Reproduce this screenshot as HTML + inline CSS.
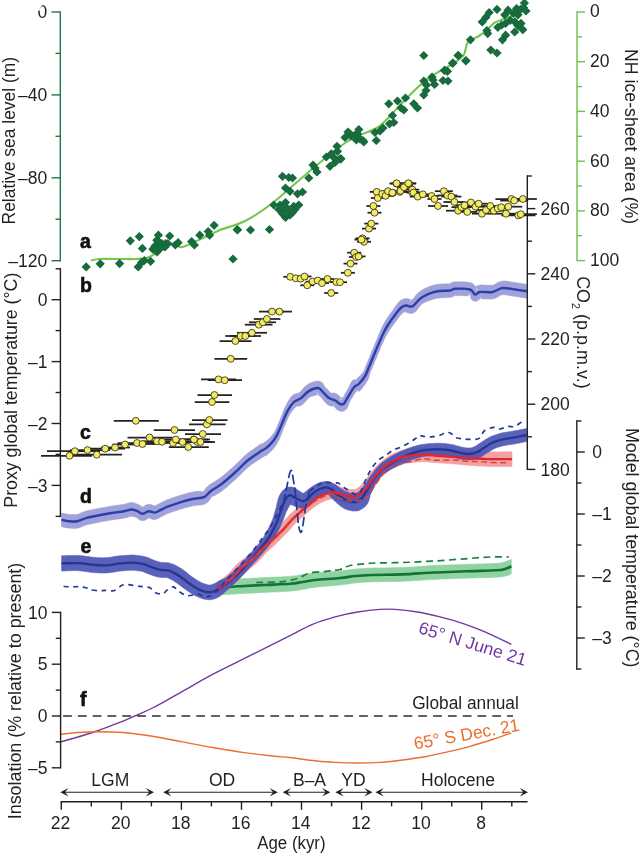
<!DOCTYPE html>
<html><head><meta charset="utf-8"><title>Figure</title>
<style>html,body{margin:0;padding:0;background:#fff;}svg{display:block;opacity:0.999;will-change:transform;}</style></head>
<body>
<svg width="640" height="854" viewBox="0 0 640 854" font-family="'Liberation Sans', sans-serif">
<rect width="640" height="854" fill="#ffffff"/>
<path d="M60.6,741.9 C65.9,740.3 82.2,735.9 92.5,732.5 C102.8,729.1 115.3,724.1 122.5,721.3 C129.7,718.5 130.6,717.8 135.6,715.6 C140.6,713.4 144.7,712.0 152.5,708.0 C160.3,704.0 172.5,696.9 182.5,691.3 C192.5,685.7 202.5,679.7 212.5,674.4 C222.5,669.1 232.5,664.4 242.5,659.4 C252.5,654.4 264.6,648.4 272.5,644.4 C280.4,640.4 283.3,638.9 290.0,635.6 C296.7,632.3 305.0,627.5 312.5,624.4 C320.0,621.3 327.5,619.0 335.0,616.9 C342.5,614.8 350.0,613.2 357.5,612.0 C365.0,610.8 373.8,609.8 380.0,609.4 C386.2,609.0 388.8,609.0 395.0,609.4 C401.2,609.8 410.0,610.8 417.5,612.0 C425.0,613.2 432.5,615.0 440.0,616.9 C447.5,618.8 455.0,620.8 462.5,623.3 C470.0,625.8 476.9,628.4 485.0,631.9 C493.1,635.4 506.9,642.2 511.3,644.3" fill="none" stroke="#72389f" stroke-width="1.4" stroke-linejoin="round"/>
<path d="M60.6,734.4 C63.4,734.1 70.9,732.9 77.5,732.5 C84.1,732.1 92.5,731.8 100.0,731.8 C107.5,731.8 113.8,731.8 122.5,732.5 C131.2,733.2 142.5,734.7 152.5,736.3 C162.5,737.9 172.5,740.0 182.5,741.9 C192.5,743.8 202.5,745.8 212.5,747.5 C222.5,749.2 232.5,751.0 242.5,752.4 C252.5,753.8 264.6,755.1 272.5,756.0 C280.4,756.9 283.3,756.8 290.0,757.5 C296.7,758.2 305.0,759.7 312.5,760.5 C320.0,761.3 327.5,762.0 335.0,762.4 C342.5,762.8 350.0,763.0 357.5,763.0 C365.0,763.0 372.5,762.9 380.0,762.4 C387.5,761.9 395.0,760.9 402.5,760.0 C410.0,759.1 417.5,758.1 425.0,756.8 C432.5,755.4 440.0,753.6 447.5,751.9 C455.0,750.1 462.5,748.4 470.0,746.3 C477.5,744.2 485.6,741.7 492.5,739.5 C499.4,737.3 508.2,734.1 511.3,733.0" fill="none" stroke="#ea6f2c" stroke-width="1.4" stroke-linejoin="round"/>
<path d="M63.1,716 H513" stroke="#2e2e2e" stroke-width="1.5" stroke-dasharray="8.8 6" fill="none"/>
<path d="M222.5,594.9 L223.8,594.8 L225.5,594.7 L228.0,594.5 L230.2,594.3 L232.7,594.2 L235.2,594.0 L237.8,593.8 L240.4,593.6 L243.2,593.5 L246.1,593.3 L249.2,593.2 L252.4,593.0 L255.6,592.9 L258.9,592.7 L262.2,592.5 L265.4,592.4 L268.6,592.2 L271.9,592.1 L275.2,591.9 L278.6,591.8 L281.9,591.6 L285.0,591.5 L288.0,591.3 L290.6,591.1 L292.9,590.9 L294.9,590.7 L296.6,590.4 L298.2,590.2 L299.6,589.9 L300.9,589.7 L302.2,589.4 L303.7,589.2 L305.2,588.9 L306.7,588.7 L308.0,588.4 L309.3,588.1 L310.6,587.9 L312.1,587.7 L313.7,587.4 L315.8,587.2 L318.2,586.9 L321.2,586.6 L324.4,586.4 L327.8,586.1 L331.3,585.8 L334.7,585.5 L337.8,585.2 L340.7,585.0 L343.2,584.7 L345.5,584.4 L347.5,584.1 L349.4,583.8 L351.1,583.5 L352.8,583.3 L354.5,583.1 L356.3,582.9 L358.1,582.7 L359.8,582.5 L361.3,582.4 L362.9,582.3 L364.7,582.2 L366.6,582.1 L368.9,582.0 L371.5,581.9 L374.6,581.8 L378.1,581.8 L381.9,581.7 L386.0,581.7 L390.2,581.6 L394.5,581.5 L398.7,581.4 L402.8,581.3 L406.8,581.1 L410.7,580.9 L414.7,580.6 L418.6,580.4 L422.5,580.1 L426.4,579.8 L430.3,579.6 L434.2,579.4 L438.0,579.2 L441.9,579.0 L445.8,578.9 L449.7,578.7 L453.5,578.6 L457.4,578.5 L461.3,578.3 L465.2,578.2 L469.3,578.1 L473.5,577.9 L477.9,577.8 L482.2,577.7 L486.4,577.6 L490.3,577.5 L493.7,577.3 L496.7,577.2 L499.1,577.0 L501.0,576.8 L502.6,576.6 L503.9,576.4 L505.1,576.1 L506.0,575.9 L506.7,575.7 L507.6,575.4 L508.7,575.1 L510.0,574.6 L511.1,574.1 L509.0,574.4 L509.7,574.0 L510.4,573.7 L510.9,573.4 L511.3,573.2 L511.3,559.4 L510.9,559.6 L510.4,559.9 L509.7,560.2 L509.0,560.6 L505.4,561.5 L504.8,561.8 L504.3,562.0 L503.6,562.2 L502.8,562.4 L502.1,562.6 L501.6,562.8 L501.2,562.9 L500.5,563.0 L499.5,563.1 L498.0,563.3 L495.9,563.4 L493.1,563.6 L489.8,563.7 L486.0,563.8 L481.8,563.9 L477.5,564.0 L473.1,564.2 L468.8,564.3 L464.8,564.4 L460.9,564.5 L457.0,564.7 L453.1,564.8 L449.1,564.9 L445.2,565.1 L441.3,565.3 L437.4,565.4 L433.4,565.6 L429.5,565.8 L425.5,566.1 L421.6,566.3 L417.7,566.6 L413.8,566.9 L409.9,567.1 L406.1,567.3 L402.2,567.5 L398.3,567.6 L394.2,567.7 L390.0,567.8 L385.8,567.9 L381.8,567.9 L377.9,568.0 L374.3,568.0 L371.1,568.1 L368.3,568.2 L366.0,568.3 L363.9,568.4 L362.0,568.5 L360.3,568.7 L358.6,568.8 L356.8,569.0 L354.9,569.1 L352.9,569.3 L351.0,569.6 L349.2,569.8 L347.4,570.1 L345.6,570.3 L343.7,570.6 L341.6,570.8 L339.3,571.0 L336.6,571.3 L333.6,571.5 L330.2,571.7 L326.8,571.9 L323.3,572.1 L320.0,572.4 L317.0,572.6 L314.2,572.8 L311.9,573.1 L309.9,573.4 L308.2,573.6 L306.7,573.9 L305.3,574.1 L304.0,574.4 L302.8,574.6 L301.3,574.8 L299.8,575.0 L298.4,575.2 L297.1,575.5 L295.9,575.7 L294.6,575.9 L293.1,576.0 L291.4,576.2 L289.4,576.4 L287.0,576.5 L284.2,576.7 L281.2,576.9 L277.9,577.0 L274.6,577.2 L271.2,577.3 L267.9,577.5 L264.6,577.6 L261.5,577.8 L258.2,577.9 L254.9,578.1 L251.7,578.2 L248.5,578.4 L245.3,578.5 L242.4,578.7 L239.6,578.9 L236.9,579.0 L234.2,579.2 L231.6,579.4 L229.1,579.6 L226.9,579.7 L225.5,579.9 L223.8,580.0 L222.5,580.1Z" fill="#8fd3a0" stroke="#8fd3a0" stroke-width="0.6" stroke-linejoin="round" opacity="1"/>
<path d="M222.5,587.5 C225.4,587.3 232.9,586.7 240.0,586.2 C247.1,585.8 256.7,585.4 265.0,585.0 C273.3,584.6 283.8,584.2 290.0,583.8 C296.2,583.2 298.3,582.6 302.5,582.0 C306.7,581.4 308.8,580.7 315.0,580.0 C321.2,579.3 333.2,578.7 340.0,578.0 C346.8,577.3 350.4,576.5 355.6,576.0 C360.8,575.5 363.5,575.3 371.3,575.0 C379.1,574.7 392.1,574.8 402.5,574.4 C412.9,574.0 423.4,573.0 433.8,572.5 C444.2,572.0 454.6,571.7 465.0,571.3 C475.4,570.9 489.5,570.7 496.3,570.3 C503.1,569.9 503.1,569.5 505.6,568.8 C508.1,568.1 510.4,566.7 511.3,566.3" fill="none" stroke="#15703a" stroke-width="2.6" stroke-linejoin="round"/>
<path d="M256.2,582.5 C259.8,582.4 271.9,582.3 277.5,582.0 C283.1,581.7 286.2,581.2 290.0,580.5 C293.8,579.8 296.7,578.8 300.0,577.5 C303.3,576.2 305.4,574.0 310.0,573.0 C314.6,572.0 322.5,571.8 327.5,571.2 C332.5,570.7 336.2,570.5 340.0,569.5 C343.8,568.5 345.8,566.5 350.0,565.5 C354.2,564.5 360.8,564.2 365.0,563.8 C369.2,563.3 368.8,563.2 375.0,563.0 C381.2,562.8 392.7,562.8 402.5,562.5 C412.3,562.2 423.4,561.6 433.8,561.0 C444.2,560.4 455.6,559.5 465.0,558.8 C474.4,558.1 482.7,557.3 490.0,557.0 C497.3,556.7 505.7,557.0 508.8,557.0" fill="none" stroke="#1c8042" stroke-width="1.7" stroke-dasharray="7 4.5" stroke-linejoin="round"/>
<path d="M217.0,594.5 L217.3,594.3 L217.6,594.1 L218.0,593.9 L218.4,593.7 L219.0,593.3 L219.6,592.9 L223.5,591.4 L224.4,590.7 L225.5,590.0 L226.8,589.1 L228.3,588.1 L229.9,587.0 L231.6,585.9 L233.2,584.6 L234.8,583.4 L236.4,582.1 L237.8,580.7 L239.1,579.4 L240.3,578.0 L241.4,576.8 L242.4,575.6 L243.4,574.4 L244.3,573.3 L245.4,572.3 L246.6,571.3 L247.9,570.2 L249.3,569.0 L250.8,567.8 L252.4,566.6 L253.9,565.3 L255.5,564.0 L257.0,562.7 L258.4,561.3 L259.8,559.9 L261.0,558.5 L262.2,557.2 L263.3,555.9 L264.3,554.7 L265.3,553.6 L266.3,552.6 L267.2,551.7 L268.1,550.9 L269.0,550.1 L269.9,549.2 L271.0,548.3 L272.1,547.3 L273.3,546.2 L274.7,544.9 L276.1,543.5 L277.7,542.0 L279.3,540.4 L281.0,538.7 L282.7,537.0 L284.3,535.3 L285.9,533.7 L287.4,532.2 L288.7,530.8 L290.0,529.4 L291.2,528.0 L292.3,526.7 L293.4,525.5 L294.4,524.3 L295.5,523.2 L296.5,522.1 L297.7,521.1 L298.8,520.0 L300.0,519.0 L301.2,517.9 L302.4,516.9 L303.6,515.9 L304.8,514.9 L306.0,513.9 L307.1,512.9 L308.2,512.0 L309.2,511.1 L310.1,510.2 L311.1,509.4 L312.0,508.7 L312.9,508.0 L313.8,507.3 L314.7,506.6 L315.7,505.9 L316.6,505.3 L317.5,504.7 L318.4,504.2 L319.3,503.6 L320.2,503.1 L321.1,502.6 L322.0,502.2 L322.9,501.7 L323.9,501.3 L324.8,500.9 L325.7,500.6 L326.5,500.2 L327.3,500.0 L328.1,499.7 L328.9,499.5 L329.8,499.3 L330.6,499.1 L331.5,499.0 L332.2,498.9 L332.9,498.8 L333.5,498.8 L333.8,498.8 L333.7,498.8 L333.3,498.7 L332.9,498.6 L332.7,498.5 L332.9,498.6 L333.6,499.0 L334.5,499.4 L335.6,499.8 L336.4,500.1 L337.3,500.4 L338.2,500.8 L339.3,501.2 L340.5,501.6 L341.7,502.0 L342.9,502.3 L344.1,502.6 L345.3,502.9 L346.4,503.1 L347.6,503.3 L348.8,503.4 L350.0,503.5 L351.3,503.6 L352.6,503.6 L353.9,503.6 L355.0,503.5 L356.2,503.3 L357.3,503.0 L358.5,502.7 L359.7,502.3 L361.0,501.8 L362.1,501.2 L363.3,500.5 L364.4,499.6 L365.4,498.7 L366.4,497.7 L367.3,496.7 L368.2,495.7 L369.0,494.7 L369.8,493.7 L370.6,492.6 L371.4,491.5 L372.3,490.3 L373.1,489.1 L373.8,487.9 L374.6,486.7 L375.3,485.6 L375.9,484.5 L376.6,483.5 L377.4,482.4 L378.1,481.4 L378.9,480.4 L379.6,479.5 L380.3,478.6 L381.0,477.7 L381.7,476.9 L382.4,476.1 L383.3,475.3 L384.1,474.5 L385.1,473.7 L386.0,472.9 L386.9,472.2 L387.9,471.5 L388.8,470.8 L389.8,470.2 L390.8,469.5 L391.8,468.9 L392.9,468.3 L394.0,467.7 L395.1,467.1 L396.2,466.6 L397.3,466.1 L398.3,465.7 L399.3,465.3 L400.3,465.0 L401.3,464.6 L402.3,464.3 L403.4,464.1 L404.4,463.8 L405.5,463.5 L406.6,463.3 L407.6,463.1 L408.6,462.9 L409.7,462.8 L410.7,462.6 L411.8,462.5 L412.9,462.4 L414.0,462.3 L415.1,462.2 L416.3,462.0 L417.3,461.9 L418.3,461.9 L419.3,461.8 L420.2,461.7 L421.3,461.7 L422.4,461.7 L423.6,461.7 L424.9,461.7 L426.3,461.8 L427.8,461.9 L429.4,462.1 L431.1,462.2 L432.9,462.4 L434.8,462.5 L436.7,462.7 L438.7,462.8 L440.8,463.0 L442.9,463.1 L445.1,463.3 L447.3,463.4 L449.5,463.6 L451.7,463.7 L453.9,463.9 L456.0,464.1 L458.1,464.3 L460.2,464.5 L462.4,464.7 L464.6,464.9 L466.7,465.1 L468.9,465.3 L471.1,465.5 L473.3,465.6 L475.3,465.8 L477.4,465.9 L479.4,466.0 L481.6,466.1 L483.8,466.2 L486.1,466.3 L488.6,466.4 L491.5,466.4 L494.7,466.5 L498.1,466.5 L501.5,466.4 L504.8,466.4 L507.7,466.4 L510.2,466.4 L512.0,466.4 L512.0,451.8 L510.2,451.8 L507.6,451.8 L504.7,451.8 L501.4,451.9 L498.0,451.9 L494.7,451.9 L491.6,451.8 L488.9,451.8 L486.5,451.8 L484.3,451.7 L482.2,451.6 L480.2,451.5 L478.2,451.5 L476.2,451.3 L474.2,451.2 L472.1,451.1 L470.0,451.0 L467.9,450.9 L465.8,450.7 L463.6,450.6 L461.5,450.4 L459.3,450.2 L457.1,450.1 L454.9,449.9 L452.7,449.8 L450.5,449.6 L448.3,449.4 L446.0,449.3 L443.8,449.1 L441.7,449.0 L439.7,448.9 L437.7,448.7 L435.9,448.6 L434.1,448.4 L432.3,448.3 L430.6,448.1 L428.9,448.0 L427.2,447.9 L425.5,447.8 L423.9,447.7 L422.4,447.7 L421.0,447.7 L419.6,447.7 L418.4,447.8 L417.2,447.9 L416.0,448.0 L414.8,448.1 L413.7,448.2 L412.4,448.4 L411.2,448.6 L409.9,448.8 L408.7,449.0 L407.4,449.2 L406.1,449.5 L404.7,449.8 L403.4,450.1 L402.1,450.4 L400.9,450.8 L399.6,451.2 L398.3,451.7 L396.9,452.1 L395.6,452.7 L394.3,453.3 L392.9,453.9 L391.6,454.6 L390.3,455.3 L389.0,456.1 L387.7,456.9 L386.4,457.8 L385.1,458.6 L383.9,459.5 L382.7,460.4 L381.6,461.4 L380.4,462.4 L379.3,463.4 L378.3,464.4 L377.3,465.4 L376.3,466.4 L375.3,467.5 L374.4,468.5 L373.4,469.6 L372.5,470.7 L371.6,471.8 L370.8,472.8 L370.0,473.9 L369.3,474.9 L368.5,475.9 L367.8,476.9 L366.9,478.0 L366.0,479.1 L365.2,480.2 L364.4,481.3 L363.6,482.3 L362.8,483.3 L362.1,484.1 L361.4,484.9 L360.7,485.6 L359.9,486.3 L359.1,487.0 L358.4,487.5 L357.7,488.0 L357.1,488.4 L356.6,488.7 L356.1,488.9 L355.7,489.1 L355.4,489.3 L355.1,489.4 L354.8,489.4 L354.4,489.5 L354.0,489.5 L353.5,489.6 L352.9,489.6 L352.4,489.6 L351.8,489.6 L351.1,489.6 L350.4,489.5 L349.6,489.4 L348.8,489.3 L347.9,489.1 L347.1,489.0 L346.3,488.8 L345.5,488.6 L344.6,488.4 L343.6,488.1 L342.7,487.8 L341.7,487.5 L340.8,487.2 L340.0,487.0 L339.7,486.9 L339.7,486.8 L339.4,486.7 L338.9,486.4 L337.9,485.9 L336.6,485.5 L335.1,485.3 L333.7,485.2 L332.4,485.3 L331.2,485.5 L330.0,485.7 L328.8,486.0 L327.5,486.3 L326.3,486.6 L325.1,487.0 L323.9,487.5 L322.7,488.0 L321.5,488.5 L320.4,489.1 L319.2,489.7 L318.1,490.3 L317.0,491.0 L316.0,491.7 L314.9,492.4 L313.9,493.1 L312.8,493.8 L311.8,494.6 L310.8,495.4 L309.8,496.2 L308.8,497.0 L307.8,497.9 L306.8,498.7 L305.8,499.6 L304.8,500.5 L303.8,501.4 L302.9,502.4 L301.9,503.3 L301.0,504.2 L300.0,505.2 L299.0,506.1 L298.0,507.1 L296.8,508.1 L295.7,509.2 L294.5,510.3 L293.2,511.4 L292.0,512.6 L290.7,513.8 L289.5,515.1 L288.2,516.3 L287.1,517.6 L285.9,518.9 L284.8,520.1 L283.7,521.4 L282.6,522.7 L281.4,524.0 L280.1,525.3 L278.7,526.8 L277.2,528.3 L275.6,530.0 L273.9,531.6 L272.3,533.3 L270.7,534.9 L269.2,536.3 L267.8,537.6 L266.6,538.6 L265.5,539.5 L264.5,540.2 L263.4,541.0 L262.4,541.7 L261.2,542.6 L260.0,543.5 L258.7,544.6 L257.4,545.8 L256.2,547.1 L255.0,548.3 L253.8,549.5 L252.6,550.8 L251.5,551.9 L250.3,553.1 L249.2,554.1 L247.9,555.2 L246.6,556.3 L245.2,557.5 L243.6,558.7 L242.1,559.9 L240.5,561.2 L238.9,562.5 L237.4,563.9 L236.0,565.3 L234.7,566.7 L233.5,568.0 L232.5,569.3 L231.5,570.5 L230.5,571.6 L229.6,572.6 L228.6,573.5 L227.5,574.5 L226.2,575.6 L224.7,576.8 L223.3,577.9 L221.8,579.0 L220.4,580.0 L219.1,581.0 L218.1,581.8 L217.2,582.4 L219.6,581.9 L219.0,582.3 L218.4,582.7 L218.0,582.9 L217.6,583.1 L217.3,583.3 L217.0,583.5Z" fill="#f5a0a0" stroke="#f5a0a0" stroke-width="0.6" stroke-linejoin="round" opacity="1"/>
<path d="M61.6,571.0 L62.9,571.0 L64.9,570.9 L67.0,570.8 L69.3,570.7 L71.6,570.7 L73.9,570.6 L76.1,570.6 L78.0,570.7 L79.8,570.8 L81.6,571.0 L83.4,571.2 L85.3,571.5 L87.3,571.8 L89.3,572.1 L91.3,572.4 L93.3,572.6 L95.2,572.7 L96.9,572.8 L98.5,572.9 L100.2,573.0 L101.8,573.0 L103.5,573.0 L105.3,573.0 L107.1,572.9 L109.1,572.7 L111.0,572.5 L113.0,572.2 L114.8,571.9 L116.6,571.6 L118.3,571.4 L119.9,571.1 L121.4,571.0 L123.0,570.8 L124.5,570.7 L126.0,570.5 L127.5,570.4 L128.9,570.3 L130.2,570.3 L131.5,570.3 L132.7,570.3 L134.0,570.3 L135.2,570.4 L136.5,570.6 L137.8,570.7 L139.1,570.9 L140.3,571.1 L141.4,571.3 L142.3,571.5 L142.9,571.6 L143.2,571.7 L143.5,571.8 L143.9,572.0 L144.4,572.3 L145.2,572.7 L146.3,573.1 L147.4,573.5 L148.4,573.9 L149.5,574.3 L150.7,574.8 L152.0,575.2 L153.4,575.7 L154.8,576.2 L156.3,576.6 L158.0,577.0 L159.7,577.2 L161.4,577.4 L162.8,577.4 L164.0,577.4 L165.0,577.4 L165.7,577.4 L166.3,577.5 L166.7,577.6 L167.4,577.8 L168.2,578.1 L169.1,578.5 L170.0,578.9 L171.0,579.4 L172.1,580.0 L173.2,580.6 L174.2,581.3 L175.2,581.9 L176.2,582.6 L177.3,583.3 L178.4,584.2 L179.6,585.1 L180.8,586.0 L182.1,587.0 L183.4,587.9 L184.6,588.8 L185.9,589.7 L187.1,590.5 L188.3,591.4 L189.6,592.3 L190.9,593.1 L192.2,594.0 L193.4,594.7 L194.7,595.4 L196.0,596.0 L197.2,596.6 L198.3,597.1 L199.5,597.6 L200.6,598.0 L201.6,598.4 L202.6,598.7 L203.6,599.0 L204.6,599.2 L205.5,599.4 L206.6,599.6 L207.7,599.7 L208.8,599.8 L209.8,599.7 L210.9,599.7 L211.9,599.5 L213.0,599.3 L214.0,599.0 L215.1,598.6 L216.1,598.2 L217.2,597.8 L218.2,597.3 L219.3,596.7 L220.4,595.9 L221.5,595.1 L222.5,594.3 L223.5,593.4 L224.4,592.6 L225.3,591.8 L226.1,591.1 L226.7,590.5 L227.2,590.0 L227.7,589.6 L228.2,589.2 L228.7,588.7 L229.4,588.2 L230.2,587.5 L231.0,586.7 L231.9,585.9 L232.9,585.0 L234.0,583.9 L235.2,582.8 L236.4,581.7 L237.6,580.5 L238.8,579.2 L240.1,578.0 L241.3,576.7 L242.5,575.5 L243.7,574.2 L244.9,572.9 L246.1,571.7 L247.2,570.4 L248.4,569.1 L249.6,567.8 L250.7,566.5 L251.9,565.2 L253.1,563.9 L254.3,562.6 L255.5,561.3 L256.7,560.0 L257.9,558.6 L259.1,557.2 L260.2,555.9 L261.5,554.5 L262.7,553.1 L264.0,551.6 L265.2,550.2 L266.5,548.7 L267.7,547.2 L268.9,545.7 L270.0,544.2 L271.1,542.7 L272.1,541.2 L273.0,539.7 L273.9,538.3 L274.7,536.8 L275.5,535.5 L276.3,534.1 L277.0,532.8 L277.8,531.4 L278.5,530.1 L279.1,528.9 L279.8,527.6 L280.4,526.3 L281.0,525.0 L281.5,523.7 L282.1,522.4 L282.8,520.9 L283.4,519.5 L283.9,518.0 L284.5,516.6 L285.0,515.2 L285.5,513.8 L286.0,512.5 L286.6,511.3 L287.2,510.0 L287.9,508.6 L288.5,507.4 L289.2,506.2 L289.8,505.1 L290.3,504.2 L290.9,503.5 L291.3,503.1 L291.7,502.7 L292.1,502.4 L292.5,502.2 L292.8,502.2 L292.9,502.3 L292.8,502.5 L292.4,502.9 L291.4,503.3 L289.8,503.3 L288.5,503.0 L287.9,502.7 L287.9,502.7 L288.3,502.9 L288.9,503.4 L289.9,504.0 L290.9,504.6 L291.7,504.9 L292.2,505.1 L292.8,505.3 L293.5,505.6 L294.2,505.9 L295.0,506.2 L295.9,506.5 L296.6,506.8 L297.1,506.9 L297.6,507.1 L298.3,507.4 L299.2,507.7 L300.5,508.0 L302.0,508.3 L303.8,508.3 L305.7,508.0 L307.4,507.3 L308.8,506.5 L309.8,505.7 L310.7,504.9 L311.4,504.2 L312.1,503.5 L312.6,502.9 L313.1,502.3 L313.8,501.5 L314.5,500.7 L315.1,500.0 L315.6,499.3 L316.0,498.7 L316.3,498.2 L316.7,497.7 L317.0,497.3 L317.5,497.0 L318.1,496.5 L318.8,496.1 L319.5,495.7 L320.1,495.3 L320.8,494.9 L321.4,494.6 L322.1,494.3 L322.8,494.0 L323.4,493.7 L324.0,493.5 L324.6,493.3 L325.0,493.2 L325.3,493.1 L325.5,493.1 L325.7,493.1 L325.8,493.1 L326.1,493.2 L326.5,493.4 L326.9,493.6 L327.5,493.9 L328.0,494.2 L328.6,494.5 L329.0,494.8 L329.2,495.0 L329.3,495.1 L329.4,495.4 L329.7,495.7 L330.1,496.2 L330.6,496.9 L331.3,497.6 L332.1,498.4 L332.8,499.1 L333.4,499.8 L334.2,500.6 L335.0,501.3 L335.8,502.1 L336.7,502.9 L337.6,503.7 L338.5,504.4 L339.3,505.1 L340.1,505.7 L340.9,506.3 L341.8,507.0 L342.8,507.6 L343.9,508.3 L345.1,508.9 L346.3,509.4 L347.5,509.8 L348.7,510.1 L349.9,510.4 L351.2,510.7 L352.6,510.9 L354.1,511.0 L355.7,511.0 L357.4,510.9 L358.9,510.4 L360.3,509.8 L361.7,509.1 L362.9,508.3 L364.1,507.4 L365.1,506.5 L366.0,505.6 L366.9,504.5 L367.7,503.2 L368.3,501.9 L368.8,500.6 L369.2,499.4 L369.5,498.1 L369.8,497.0 L370.1,495.8 L370.4,494.6 L371.0,493.4 L371.6,492.1 L372.2,490.8 L372.8,489.5 L373.3,488.2 L373.9,487.0 L374.4,485.8 L375.0,484.7 L375.6,483.7 L376.3,482.7 L376.9,481.7 L377.5,480.8 L378.2,479.9 L378.8,479.0 L379.5,478.2 L380.1,477.4 L380.9,476.6 L381.6,475.9 L382.4,475.3 L383.1,474.6 L383.8,474.1 L384.5,473.5 L385.4,472.9 L386.2,472.3 L387.2,471.7 L388.2,471.0 L389.3,470.3 L390.5,469.6 L391.7,469.0 L392.9,468.3 L394.1,467.7 L395.3,467.1 L396.4,466.5 L397.5,465.9 L398.6,465.4 L399.7,464.9 L400.9,464.4 L402.0,463.9 L403.2,463.4 L404.4,462.9 L405.5,462.4 L406.6,461.9 L407.8,461.4 L408.9,460.9 L410.0,460.5 L411.1,460.0 L412.2,459.6 L413.3,459.3 L414.3,458.9 L415.4,458.5 L416.5,458.2 L417.6,457.8 L418.7,457.5 L419.7,457.3 L420.8,457.0 L421.9,456.8 L422.9,456.6 L423.9,456.4 L425.0,456.2 L426.0,456.0 L427.1,455.9 L428.2,455.8 L429.3,455.7 L430.5,455.6 L431.7,455.5 L432.9,455.4 L434.2,455.3 L435.4,455.3 L436.7,455.3 L437.9,455.2 L439.2,455.3 L440.4,455.3 L441.5,455.4 L442.7,455.4 L443.9,455.5 L445.1,455.7 L446.3,455.8 L447.5,456.0 L448.7,456.2 L449.9,456.4 L451.0,456.6 L452.1,456.9 L453.3,457.2 L454.6,457.6 L455.9,458.0 L457.3,458.3 L458.7,458.7 L460.1,459.0 L461.4,459.2 L462.6,459.4 L463.8,459.6 L465.0,459.8 L466.3,459.9 L467.5,460.0 L468.8,460.0 L470.1,460.0 L471.3,459.9 L472.5,459.8 L473.7,459.5 L474.8,459.3 L475.9,459.0 L477.0,458.6 L478.1,458.2 L479.2,457.8 L480.3,457.2 L481.4,456.6 L482.4,456.0 L483.4,455.4 L484.3,454.7 L485.1,454.2 L485.9,453.6 L486.8,453.1 L487.8,452.4 L488.9,451.8 L490.0,451.1 L491.0,450.5 L492.0,449.9 L492.9,449.3 L493.9,448.9 L494.8,448.4 L495.8,448.0 L496.9,447.6 L498.0,447.2 L499.2,446.9 L500.4,446.5 L501.6,446.2 L502.8,445.9 L504.0,445.6 L505.1,445.4 L506.1,445.2 L507.2,445.0 L508.3,444.8 L509.5,444.7 L510.9,444.5 L512.4,444.3 L513.9,444.0 L515.6,443.7 L517.6,443.3 L519.6,442.9 L521.7,442.5 L523.6,442.1 L524.2,441.9 L525.7,441.6 L526.8,441.4 L526.8,428.6 L525.7,428.8 L524.2,429.1 L521.2,429.6 L519.2,430.0 L517.2,430.4 L515.2,430.7 L513.3,431.1 L511.7,431.4 L510.3,431.6 L509.0,431.8 L507.8,432.0 L506.5,432.2 L505.2,432.4 L503.9,432.6 L502.5,432.8 L501.0,433.2 L499.6,433.6 L498.2,434.0 L496.7,434.4 L495.3,434.9 L493.9,435.4 L492.4,435.9 L491.0,436.5 L489.6,437.2 L488.2,437.9 L486.8,438.7 L485.6,439.4 L484.4,440.2 L483.3,441.0 L482.3,441.7 L481.3,442.3 L480.4,442.9 L479.4,443.6 L478.4,444.2 L477.5,444.8 L476.7,445.4 L476.0,445.9 L475.3,446.3 L474.8,446.6 L474.2,446.8 L473.6,447.1 L473.0,447.3 L472.4,447.5 L471.9,447.7 L471.3,447.8 L470.8,447.9 L470.2,448.0 L469.5,448.0 L468.8,448.0 L468.1,448.0 L467.3,447.9 L466.4,447.9 L465.5,447.7 L464.5,447.6 L463.5,447.4 L462.4,447.2 L461.4,447.0 L460.3,446.7 L459.2,446.4 L457.9,446.0 L456.5,445.7 L455.1,445.3 L453.6,444.9 L452.1,444.6 L450.7,444.4 L449.3,444.1 L447.9,443.9 L446.5,443.8 L445.1,443.6 L443.7,443.5 L442.3,443.4 L440.8,443.3 L439.4,443.3 L437.9,443.2 L436.5,443.3 L435.0,443.3 L433.6,443.4 L432.2,443.4 L430.8,443.5 L429.5,443.6 L428.2,443.7 L426.9,443.9 L425.7,444.0 L424.4,444.2 L423.2,444.3 L421.9,444.5 L420.6,444.8 L419.3,445.0 L418.1,445.3 L416.8,445.6 L415.5,446.0 L414.2,446.3 L413.0,446.7 L411.7,447.1 L410.5,447.5 L409.2,447.9 L408.0,448.4 L406.7,448.9 L405.5,449.4 L404.3,449.9 L403.0,450.5 L401.8,451.0 L400.6,451.6 L399.4,452.1 L398.3,452.7 L397.1,453.3 L395.9,453.9 L394.7,454.5 L393.4,455.2 L392.2,455.9 L390.9,456.6 L389.7,457.3 L388.5,458.2 L387.2,459.0 L386.0,459.9 L384.7,460.8 L383.5,461.7 L382.2,462.6 L381.1,463.5 L380.0,464.5 L379.0,465.4 L378.1,466.4 L377.2,467.3 L376.4,468.3 L375.7,469.2 L375.0,470.1 L374.3,471.1 L373.7,472.0 L372.9,473.0 L372.1,474.0 L371.4,475.0 L370.7,476.0 L369.9,477.0 L369.2,478.1 L368.5,479.2 L367.8,480.3 L367.0,481.4 L366.2,482.6 L365.3,483.8 L364.5,485.0 L363.8,486.1 L363.0,487.2 L362.3,488.3 L361.6,489.2 L360.6,490.0 L359.7,490.9 L358.9,491.6 L358.1,492.2 L357.3,492.7 L356.6,493.1 L356.1,493.2 L355.6,493.3 L355.2,493.4 L354.9,493.6 L354.6,493.6 L354.4,493.6 L354.3,493.5 L354.2,493.4 L354.2,493.3 L354.2,493.1 L354.2,493.2 L354.1,493.3 L353.8,493.3 L353.4,493.3 L352.9,493.3 L352.3,493.3 L351.7,493.2 L351.2,493.1 L350.8,493.1 L350.3,493.1 L349.9,493.0 L349.3,492.8 L348.7,492.7 L348.0,492.4 L347.3,492.1 L346.5,491.8 L345.8,491.5 L345.1,491.1 L344.3,490.7 L343.5,490.2 L342.7,489.8 L341.9,489.3 L341.1,488.8 L340.4,488.4 L340.0,488.1 L339.7,487.9 L339.3,487.6 L338.8,487.1 L338.1,486.5 L337.3,485.9 L336.4,485.2 L335.4,484.6 L334.5,484.1 L333.6,483.6 L332.6,483.2 L331.5,482.7 L330.4,482.3 L329.2,481.9 L327.8,481.7 L326.3,481.5 L324.9,481.5 L323.5,481.7 L322.3,481.9 L321.2,482.2 L320.1,482.6 L319.1,482.9 L318.2,483.3 L317.3,483.7 L316.4,484.1 L315.4,484.7 L314.4,485.2 L313.4,485.8 L312.5,486.3 L311.6,487.0 L310.7,487.6 L309.8,488.3 L308.8,489.0 L307.9,489.7 L307.1,490.4 L306.4,491.1 L305.8,491.6 L305.3,492.1 L304.8,492.4 L304.4,492.7 L303.7,493.1 L303.1,493.6 L302.5,494.0 L302.0,494.3 L301.7,494.5 L301.6,494.5 L301.7,494.3 L302.3,494.0 L303.1,493.9 L303.7,493.8 L304.1,493.9 L304.2,493.8 L304.0,493.7 L303.5,493.5 L302.9,493.2 L302.2,492.8 L301.8,492.6 L301.5,492.4 L301.1,492.1 L300.6,491.8 L300.1,491.5 L299.5,491.1 L298.9,490.7 L298.5,490.4 L298.3,490.4 L298.1,490.2 L297.6,489.8 L296.8,489.2 L295.6,488.4 L293.8,487.6 L291.4,487.0 L288.6,487.1 L286.4,487.9 L284.8,488.8 L283.5,489.9 L282.4,491.0 L281.5,492.2 L280.7,493.4 L280.0,494.6 L279.3,495.9 L278.7,497.4 L278.2,498.9 L277.8,500.4 L277.4,501.9 L277.1,503.3 L276.8,504.8 L276.5,506.2 L276.2,507.5 L275.8,508.9 L275.4,510.4 L274.9,511.8 L274.5,513.3 L274.1,514.7 L273.7,516.1 L273.3,517.4 L272.9,518.6 L272.4,519.9 L271.9,521.1 L271.4,522.3 L270.9,523.4 L270.3,524.6 L269.8,525.8 L269.2,527.0 L268.6,528.2 L267.9,529.6 L267.2,530.9 L266.5,532.2 L265.8,533.5 L265.0,534.9 L264.2,536.2 L263.4,537.5 L262.5,538.8 L261.6,540.2 L260.5,541.6 L259.4,543.0 L258.3,544.4 L257.1,545.9 L255.9,547.3 L254.7,548.7 L253.6,550.1 L252.4,551.5 L251.3,552.8 L250.1,554.1 L248.9,555.4 L247.8,556.7 L246.6,558.0 L245.4,559.2 L244.3,560.5 L243.1,561.8 L241.9,563.1 L240.7,564.3 L239.5,565.6 L238.4,566.8 L237.2,568.0 L236.1,569.2 L234.9,570.3 L233.7,571.4 L232.5,572.5 L231.2,573.6 L230.0,574.6 L228.8,575.6 L227.6,576.6 L226.5,577.4 L225.6,578.1 L224.8,578.6 L224.2,578.9 L223.7,579.1 L223.2,579.2 L222.6,579.4 L221.9,579.7 L221.0,580.0 L220.1,580.5 L219.1,581.1 L218.0,581.6 L217.0,582.2 L216.0,582.8 L215.0,583.3 L214.1,583.8 L213.4,584.1 L212.7,584.3 L212.2,584.5 L211.7,584.7 L211.3,584.8 L210.9,584.9 L210.5,584.9 L210.2,584.9 L209.9,584.9 L209.5,584.9 L209.2,585.0 L209.0,585.0 L208.8,585.0 L208.6,584.9 L208.3,584.9 L207.9,584.8 L207.4,584.7 L206.8,584.5 L206.1,584.3 L205.3,584.1 L204.5,583.8 L203.7,583.6 L202.9,583.2 L202.1,582.9 L201.2,582.5 L200.4,582.1 L199.4,581.6 L198.5,581.0 L197.4,580.4 L196.3,579.6 L195.1,578.9 L193.9,578.1 L192.7,577.3 L191.6,576.5 L190.5,575.7 L189.5,574.9 L188.3,574.0 L187.2,573.0 L186.0,572.0 L184.7,571.0 L183.3,570.1 L182.0,569.1 L180.7,568.3 L179.4,567.5 L178.1,566.8 L176.8,566.0 L175.4,565.3 L174.0,564.6 L172.4,564.0 L170.8,563.4 L168.9,562.9 L167.1,562.7 L165.5,562.6 L164.1,562.6 L163.0,562.6 L162.1,562.6 L161.4,562.5 L160.8,562.4 L160.1,562.3 L159.1,562.0 L158.1,561.6 L156.9,561.3 L155.8,560.9 L154.7,560.4 L153.6,560.0 L152.6,559.7 L152.0,559.4 L151.5,559.2 L151.0,558.9 L150.3,558.6 L149.5,558.2 L148.3,557.7 L147.1,557.3 L145.7,556.9 L144.4,556.6 L143.0,556.3 L141.5,556.0 L140.0,555.8 L138.4,555.6 L136.7,555.4 L135.0,555.2 L133.3,555.1 L131.5,555.1 L129.8,555.1 L128.2,555.2 L126.5,555.3 L124.8,555.4 L123.2,555.5 L121.5,555.7 L119.8,555.8 L117.9,556.1 L116.1,556.3 L114.2,556.6 L112.4,556.9 L110.7,557.2 L109.0,557.4 L107.5,557.6 L106.1,557.7 L104.7,557.8 L103.3,557.8 L102.0,557.8 L100.6,557.8 L99.3,557.7 L97.8,557.7 L96.3,557.5 L94.7,557.4 L93.1,557.3 L91.4,557.1 L89.5,556.8 L87.6,556.5 L85.5,556.2 L83.3,555.9 L81.1,555.7 L78.8,555.5 L76.4,555.4 L73.8,555.4 L71.3,555.5 L68.8,555.5 L66.4,555.6 L64.4,555.7 L62.9,555.8 L61.6,555.8Z" fill="#4850b4" stroke="#4850b4" stroke-width="0.6" stroke-linejoin="round" opacity="0.9"/>
<path d="M61.6,563.4 C64.4,563.4 73.0,562.8 78.4,563.1 C83.8,563.4 89.3,564.6 94.0,565.0 C98.7,565.4 102.2,565.6 106.6,565.3 C111.0,565.0 116.2,563.8 120.6,563.4 C125.0,563.0 129.1,562.6 133.0,562.7 C136.9,562.8 141.2,563.6 144.0,564.2 C146.8,564.9 147.4,565.7 150.0,566.6 C152.6,567.5 156.3,569.1 159.4,569.7 C162.5,570.4 165.6,569.6 168.8,570.5 C171.9,571.4 175.0,573.2 178.1,575.2 C181.2,577.2 184.4,580.0 187.5,582.2 C190.6,584.4 194.0,586.8 196.9,588.4 C199.8,590.0 202.5,591.0 204.7,591.6 C206.9,592.2 208.3,592.5 210.2,592.3 C212.1,592.1 213.8,591.6 216.0,590.5 C218.2,589.4 221.3,586.9 223.4,585.5 C225.5,584.1 226.3,584.0 228.8,582.0 C231.2,580.0 235.0,576.6 238.1,573.5 C241.2,570.4 244.4,566.9 247.5,563.5 C250.6,560.1 253.8,556.7 256.9,553.0 C260.0,549.3 263.6,545.2 266.2,541.5 C268.9,537.8 270.9,534.0 272.8,530.5 C274.7,527.0 276.1,524.0 277.5,520.5 C278.9,517.0 280.1,512.9 281.4,509.4 C282.7,505.9 283.9,501.9 285.3,499.5 C286.7,497.1 288.4,495.5 290.0,495.2 C291.6,494.9 293.1,496.7 294.7,497.5 C296.3,498.3 297.8,499.2 299.4,499.8 C300.9,500.4 302.4,501.4 304.0,501.0 C305.6,500.6 307.2,498.9 308.8,497.5 C310.3,496.1 311.6,494.2 313.4,492.8 C315.2,491.4 317.6,489.9 319.7,489.0 C321.8,488.1 323.9,487.2 326.0,487.3 C328.1,487.4 330.5,488.7 332.2,489.7 C333.9,490.7 334.5,492.0 336.2,493.4 C338.0,494.8 340.4,496.8 342.5,498.1 C344.6,499.4 346.5,500.6 348.8,501.2 C351.0,501.9 353.7,502.4 355.8,502.0 C357.9,501.6 359.6,500.6 361.2,498.9 C362.9,497.2 364.3,494.6 366.0,491.9 C367.7,489.2 369.6,485.4 371.4,482.5 C373.2,479.6 374.9,477.1 376.9,474.7 C378.8,472.3 380.5,470.5 383.1,468.4 C385.7,466.3 389.4,464.0 392.5,462.2 C395.6,460.4 398.8,458.9 401.9,457.5 C405.0,456.1 408.1,454.7 411.2,453.6 C414.4,452.5 417.5,451.6 420.6,450.9 C423.7,450.2 426.7,449.9 430.0,449.6 C433.3,449.3 437.1,449.2 440.6,449.3 C444.1,449.4 447.6,449.9 451.0,450.5 C454.4,451.1 458.1,452.5 461.2,453.1 C464.4,453.7 467.2,454.1 469.8,454.0 C472.4,453.9 474.4,453.3 476.7,452.3 C479.0,451.3 481.0,449.6 483.6,448.0 C486.2,446.4 489.1,444.2 492.2,442.8 C495.3,441.4 499.1,440.2 502.5,439.4 C505.9,438.5 508.7,438.4 512.8,437.7 C516.8,437.0 524.5,435.4 526.8,435.0" fill="none" stroke="#26358f" stroke-width="2.3" stroke-linejoin="round"/>
<path d="M217.0,589.0 C217.7,588.5 218.7,588.1 221.2,586.2 C223.8,584.4 229.1,580.8 232.5,577.8 C235.9,574.8 238.0,571.3 241.4,568.1 C244.8,564.9 249.6,561.6 253.1,558.4 C256.6,555.1 259.5,551.5 262.5,548.6 C265.5,545.7 267.7,544.6 271.2,541.2 C274.8,537.9 280.1,532.5 283.8,528.8 C287.4,525.0 289.9,521.7 293.0,518.6 C296.1,515.5 299.6,512.6 302.5,510.0 C305.4,507.4 307.7,505.1 310.3,503.0 C312.9,500.9 315.4,499.1 318.0,497.5 C320.6,495.9 323.4,494.5 326.0,493.6 C328.6,492.7 331.8,492.0 333.8,492.0 C335.7,492.0 335.8,492.8 337.8,493.4 C339.8,494.0 343.0,495.3 345.6,495.8 C348.2,496.3 351.0,496.8 353.4,496.6 C355.8,496.4 357.6,496.0 359.7,494.7 C361.8,493.4 363.9,491.2 366.0,488.8 C368.1,486.3 370.1,482.9 372.2,480.2 C374.3,477.5 376.1,474.8 378.4,472.3 C380.7,469.8 383.4,467.4 386.2,465.3 C389.1,463.2 392.5,461.2 395.6,459.8 C398.7,458.4 401.9,457.5 405.0,456.7 C408.1,455.9 411.3,455.5 414.4,455.2 C417.5,454.9 419.9,454.6 423.8,454.7 C427.6,454.8 432.1,455.3 437.2,455.7 C442.3,456.1 448.7,456.5 454.4,456.9 C460.1,457.3 465.9,457.9 471.6,458.3 C477.3,458.7 482.0,459.0 488.8,459.1 C495.5,459.2 508.1,459.1 512.0,459.1" fill="none" stroke="#e1262d" stroke-width="2.4" stroke-linejoin="round"/>
<path d="M221.2,586.2 C223.1,584.8 229.1,580.8 232.5,577.8 C235.9,574.8 238.0,571.3 241.4,568.1 C244.8,564.9 249.6,561.6 253.1,558.4 C256.6,555.1 259.5,551.4 262.5,548.6 C265.5,545.8 267.7,544.9 271.2,541.8 C274.8,538.6 280.1,533.2 283.8,529.5 C287.4,525.8 289.9,522.6 293.0,519.5 C296.1,516.4 299.6,513.5 302.5,511.0 C305.4,508.5 307.7,506.4 310.3,504.5 C312.9,502.6 315.4,501.0 318.0,499.5 C320.6,498.0 324.0,496.5 326.0,495.5 C328.0,494.5 327.8,493.0 330.0,493.4 C332.2,493.8 335.8,496.8 339.4,498.1 C343.0,499.4 348.5,500.9 351.9,501.2 C355.3,501.6 357.1,501.3 359.7,500.5 C362.3,499.7 365.2,498.8 367.5,496.6 C369.8,494.4 372.2,489.6 373.8,487.2 C375.3,484.8 375.4,484.7 376.9,482.5 C378.4,480.3 380.9,476.4 383.0,474.0 C385.1,471.6 387.0,470.0 389.4,468.4 C391.8,466.8 393.6,465.7 397.2,464.5 C400.8,463.3 406.8,462.3 411.2,461.4 C415.7,460.4 419.4,459.0 423.8,458.8 C428.1,458.6 432.1,460.1 437.2,460.3 C442.3,460.5 449.3,459.8 454.4,460.0 C459.5,460.2 463.7,461.1 468.0,461.4 C472.3,461.7 476.0,461.5 480.0,461.7 C484.0,461.9 487.3,462.5 492.2,462.6 C497.1,462.8 506.5,462.6 509.4,462.6" fill="none" stroke="#d8453f" stroke-width="1.5" stroke-dasharray="6 3.5" stroke-linejoin="round"/>
<path d="M63.6,586.4 C65.0,586.5 69.5,586.9 72.0,586.9 C74.5,586.9 76.1,586.5 78.4,586.6 C80.7,586.7 84.1,587.2 86.0,587.7 C87.9,588.2 87.7,589.2 90.0,589.7 C92.3,590.2 97.5,590.7 100.0,590.8 C102.5,590.9 102.9,590.3 105.0,590.3 C107.1,590.3 110.8,591.0 112.8,590.8 C114.8,590.6 115.2,590.1 116.7,589.2 C118.2,588.3 120.2,586.1 122.0,585.3 C123.8,584.5 125.4,584.4 127.7,584.5 C130.0,584.6 133.5,585.6 136.0,586.0 C138.5,586.4 140.2,586.3 142.5,586.6 C144.8,586.9 148.0,586.8 150.0,587.7 C152.0,588.7 152.6,591.2 154.7,592.3 C156.8,593.3 160.4,594.4 162.5,594.0 C164.6,593.6 165.4,591.2 167.2,590.0 C169.0,588.8 171.6,586.8 173.4,586.9 C175.2,587.0 176.1,589.4 178.1,590.8 C180.1,592.1 183.1,594.2 185.2,595.0 C187.3,595.8 188.4,595.7 190.6,595.5 C192.8,595.3 196.2,593.8 198.4,594.0 C200.6,594.2 202.1,596.7 204.0,597.0 C205.9,597.3 208.0,596.8 210.0,596.0 C212.0,595.2 213.7,594.2 216.0,592.0 C218.3,589.8 221.2,586.2 224.0,583.0 C226.8,579.8 229.8,576.5 233.0,573.0 C236.2,569.5 239.8,565.5 243.0,562.0 C246.2,558.5 249.1,555.5 252.0,552.0 C254.9,548.5 258.0,544.1 260.3,541.0 C262.6,537.9 264.0,536.0 265.8,533.4 C267.6,530.8 269.4,528.7 271.2,525.6 C273.1,522.5 274.9,519.2 277.0,515.0 C279.1,510.8 282.6,503.0 283.8,500.6" fill="none" stroke="#24389c" stroke-width="1.7" stroke-dasharray="5 4.6" stroke-linejoin="round"/>
<path d="M283.8,500.6 C284.3,498.3 286.1,490.2 286.9,486.6 C287.7,483.0 287.8,481.4 288.4,478.8 C289.0,476.1 290.1,471.5 290.8,470.6 C291.5,469.7 291.8,471.2 292.3,473.3 C292.8,475.4 293.4,480.7 293.9,483.4 C294.3,486.1 294.6,486.8 295.0,489.7 C295.4,492.6 295.6,496.4 296.0,500.6 C296.4,504.8 297.1,510.5 297.5,514.7 C297.9,518.9 298.2,522.7 298.6,525.6 C299.1,528.5 299.7,531.0 300.2,531.9 C300.7,532.8 301.2,532.6 301.7,531.0 C302.2,529.4 302.8,525.7 303.3,522.5 C303.8,519.3 304.3,514.7 304.8,511.6 C305.3,508.5 305.6,507.1 306.4,503.8 C307.2,500.4 309.0,493.3 309.5,491.2" fill="none" stroke="#24389c" stroke-width="1.7" stroke-dasharray="9.5 3.5" stroke-dashoffset="3" stroke-linejoin="round"/>
<path d="M309.5,491.2 C310.4,490.6 313.0,488.6 315.0,487.3 C317.0,486.0 319.2,484.2 321.2,483.4 C323.3,482.6 325.4,482.3 327.5,482.3 C329.6,482.3 331.9,483.3 333.8,483.4 C335.6,483.5 337.2,482.6 338.4,483.0 C339.6,483.4 339.5,484.5 341.0,485.6 C342.5,486.7 345.1,488.2 347.2,489.5 C349.3,490.8 351.4,492.6 353.4,493.4 C355.3,494.2 357.5,495.0 358.9,494.2 C360.3,493.4 360.9,490.9 362.0,488.8 C363.1,486.6 364.0,483.6 365.2,481.0 C366.4,478.4 367.6,475.6 369.0,473.0 C370.4,470.4 371.9,467.6 373.8,465.3 C375.6,463.0 377.9,460.7 380.0,459.0 C382.1,457.3 384.2,456.6 386.2,455.2 C388.3,453.8 390.2,451.8 392.5,450.5 C394.8,449.2 397.7,448.5 400.3,447.3 C402.9,446.1 405.5,444.8 408.0,443.4 C410.5,442.0 413.4,440.1 415.2,438.8 C417.0,437.4 417.6,436.0 419.0,435.6 C420.4,435.2 421.6,436.2 423.8,436.4 C425.9,436.6 429.2,437.0 432.0,436.8 C434.8,436.6 438.3,435.7 440.6,435.0 C442.9,434.3 444.1,432.8 445.8,432.5 C447.5,432.2 449.3,432.5 451.0,433.4 C452.7,434.3 453.7,436.8 456.0,437.7 C458.3,438.6 461.5,438.7 464.7,439.0 C467.9,439.3 472.4,439.6 475.0,439.4 C477.6,439.2 478.4,439.1 480.0,437.7 C481.6,436.3 482.2,432.5 484.5,430.8 C486.8,429.1 491.4,427.6 494.0,427.3 C496.6,427.0 497.7,429.1 500.0,429.0 C502.3,428.9 505.3,426.9 507.7,426.5 C510.1,426.1 512.2,427.2 514.5,426.5 C516.8,425.8 519.8,422.8 521.4,422.2 C523.0,421.6 523.6,422.9 524.0,423.0" fill="none" stroke="#24389c" stroke-width="1.7" stroke-dasharray="5 4.6" stroke-linejoin="round"/>
<path d="M61.5,526.6 L62.1,526.7 L62.8,526.8 L63.6,527.0 L63.2,527.1 L64.3,527.4 L65.5,527.6 L66.8,527.9 L68.1,528.0 L69.2,528.1 L70.3,528.2 L71.5,528.3 L72.8,528.4 L74.1,528.4 L75.5,528.3 L77.0,528.2 L78.5,527.9 L80.1,527.4 L81.6,526.8 L82.8,526.3 L83.9,525.7 L85.0,525.3 L85.9,525.0 L86.9,524.7 L87.8,524.5 L89.0,524.3 L90.3,524.0 L91.6,523.7 L93.1,523.4 L94.6,523.1 L96.1,522.8 L97.7,522.5 L99.3,522.2 L100.9,521.8 L102.6,521.5 L104.3,521.2 L106.1,520.9 L107.8,520.6 L109.5,520.3 L111.2,520.0 L112.8,519.7 L114.3,519.5 L115.9,519.3 L117.5,519.1 L119.0,518.9 L120.5,518.7 L122.1,518.4 L123.5,518.2 L125.0,517.9 L126.4,517.6 L127.8,517.2 L128.9,516.8 L129.9,516.6 L130.6,516.4 L131.1,516.3 L131.4,516.4 L131.5,516.4 L131.6,516.4 L131.8,516.3 L132.1,516.3 L132.5,516.3 L133.0,516.4 L133.6,516.6 L134.3,516.9 L135.0,517.1 L135.3,517.1 L135.7,517.0 L136.2,517.3 L136.9,517.8 L137.7,518.5 L138.9,519.5 L140.5,520.3 L142.8,520.7 L145.1,520.2 L146.7,519.3 L147.9,518.5 L148.7,517.8 L149.4,517.5 L149.9,517.5 L150.0,517.7 L149.4,518.1 L148.8,518.1 L148.6,517.9 L148.9,517.9 L149.5,518.1 L150.4,518.4 L151.5,518.9 L153.1,519.4 L155.1,519.5 L156.8,519.1 L158.2,518.5 L159.3,517.9 L160.2,517.3 L160.9,516.8 L161.5,516.4 L162.1,516.2 L162.6,516.1 L163.2,515.7 L163.9,515.3 L164.6,515.0 L165.2,514.6 L165.8,514.3 L166.4,514.1 L167.0,513.8 L167.6,513.6 L168.3,513.4 L168.9,513.1 L169.5,512.8 L170.2,512.6 L170.9,512.4 L171.6,512.1 L172.5,511.8 L173.4,511.5 L174.6,511.1 L175.9,510.7 L177.2,510.2 L178.6,509.7 L180.1,509.3 L181.6,508.8 L183.0,508.4 L184.4,508.0 L185.7,507.6 L187.1,507.2 L188.5,506.9 L189.9,506.5 L191.2,506.2 L192.5,505.9 L193.8,505.6 L195.0,505.4 L196.0,505.3 L197.1,505.2 L198.3,505.2 L199.7,505.1 L201.2,504.9 L202.9,504.6 L204.8,504.1 L206.6,503.1 L208.2,501.8 L209.4,500.3 L210.2,499.0 L210.9,497.9 L211.6,497.1 L212.4,496.5 L213.2,496.1 L214.1,495.8 L215.1,495.3 L216.3,494.6 L217.6,493.8 L219.0,492.9 L220.5,492.0 L222.1,490.9 L223.7,489.6 L225.4,488.3 L227.0,486.9 L228.6,485.5 L230.3,484.0 L231.9,482.5 L233.6,481.0 L235.3,479.5 L237.0,478.0 L238.6,476.5 L240.3,474.9 L241.9,473.2 L243.5,471.6 L245.1,470.0 L246.8,468.5 L248.4,467.1 L250.0,465.8 L251.5,464.6 L253.2,463.5 L254.9,462.3 L256.7,461.1 L258.5,459.9 L260.2,458.7 L261.9,457.7 L263.3,456.7 L264.5,456.0 L265.3,455.6 L265.7,455.5 L265.8,455.7 L265.8,455.9 L266.2,455.6 L267.0,455.0 L267.8,454.2 L268.4,453.5 L269.1,452.9 L269.9,452.3 L270.7,451.5 L271.6,450.7 L272.5,449.8 L273.3,448.8 L274.2,447.8 L274.9,446.7 L275.7,445.7 L276.3,444.7 L277.0,443.6 L277.6,442.5 L278.3,441.3 L278.9,440.1 L279.5,438.8 L280.0,437.4 L280.6,435.9 L281.2,434.2 L281.9,432.6 L282.5,430.9 L283.2,429.3 L283.9,427.6 L284.6,426.0 L285.3,424.4 L285.9,422.8 L286.6,421.1 L287.3,419.5 L287.9,417.9 L288.7,416.3 L289.4,414.9 L290.2,413.6 L291.1,412.4 L291.9,411.3 L292.7,410.2 L293.5,409.2 L294.3,408.3 L295.1,407.5 L296.0,406.8 L296.8,406.3 L297.5,406.0 L298.1,406.0 L298.6,406.1 L299.1,406.1 L299.8,405.9 L300.8,405.5 L301.9,404.9 L303.2,404.0 L304.4,402.8 L305.5,401.4 L306.5,400.2 L307.5,399.1 L308.4,398.1 L309.4,397.3 L310.3,396.7 L311.1,396.4 L311.9,396.2 L312.8,396.0 L313.7,395.7 L314.8,395.4 L315.8,395.1 L316.7,394.9 L317.4,394.8 L317.8,394.9 L317.7,394.9 L317.0,394.5 L316.5,393.7 L316.6,393.0 L317.0,392.7 L317.5,392.9 L318.0,393.6 L318.5,394.6 L319.1,395.5 L319.8,396.2 L320.6,396.8 L321.3,397.6 L322.1,398.5 L322.9,399.5 L323.8,400.6 L324.7,401.7 L325.7,403.0 L326.9,404.1 L328.2,405.0 L329.4,405.5 L330.4,405.9 L331.3,406.1 L331.8,406.2 L332.2,406.2 L332.4,406.0 L332.7,405.8 L333.1,405.8 L333.6,406.0 L334.2,406.5 L334.8,407.1 L335.5,408.0 L336.4,409.0 L337.5,409.9 L338.4,410.4 L339.2,410.8 L340.3,411.2 L341.9,411.4 L343.8,411.1 L345.5,410.1 L346.7,408.8 L347.6,407.3 L348.1,405.8 L348.6,404.5 L349.0,403.3 L349.5,402.1 L350.1,400.9 L350.7,399.8 L351.4,398.8 L352.1,397.9 L352.7,396.8 L353.4,395.6 L354.0,394.4 L354.8,393.3 L355.5,392.2 L356.2,391.4 L357.0,390.7 L357.7,390.4 L358.2,390.6 L358.5,391.0 L358.6,391.4 L359.0,391.4 L359.6,391.0 L360.6,390.2 L361.6,389.1 L362.4,387.8 L363.2,386.8 L363.9,385.7 L364.8,384.7 L365.6,383.5 L366.4,382.3 L367.2,381.0 L367.9,379.7 L368.5,378.4 L368.9,377.1 L369.3,375.8 L369.6,374.6 L369.9,373.5 L370.2,372.4 L370.7,371.3 L371.2,370.1 L371.8,368.7 L372.5,367.2 L373.1,365.6 L373.8,363.9 L374.5,362.1 L375.3,360.2 L376.2,358.2 L377.1,356.1 L378.1,353.8 L379.1,351.3 L380.3,348.5 L381.5,345.6 L382.8,342.6 L384.2,339.6 L385.6,336.7 L387.0,334.1 L388.3,331.8 L389.7,329.7 L391.1,327.7 L392.5,325.9 L393.8,324.1 L395.1,322.4 L396.4,320.7 L397.6,319.1 L398.6,317.7 L399.6,316.3 L400.5,315.2 L401.4,314.3 L402.1,313.5 L402.9,312.8 L403.6,312.4 L404.2,312.0 L404.9,311.7 L405.4,311.6 L405.7,311.7 L405.9,311.9 L406.0,312.2 L406.1,312.3 L406.2,312.4 L406.5,312.4 L406.6,312.4 L406.1,312.3 L405.8,312.1 L406.3,312.1 L407.1,312.5 L408.5,313.0 L410.4,313.5 L412.9,313.3 L415.3,312.0 L416.8,310.3 L417.9,308.7 L418.9,307.3 L419.9,306.1 L420.8,305.0 L421.8,304.0 L422.7,303.4 L423.6,303.0 L424.4,302.6 L425.2,302.2 L426.0,301.8 L426.7,301.5 L427.5,301.2 L428.3,300.9 L429.1,300.5 L430.0,300.2 L431.0,299.9 L432.0,299.5 L433.1,299.2 L434.1,298.9 L435.2,298.6 L436.3,298.4 L437.5,298.2 L438.6,298.0 L439.7,297.9 L441.1,297.8 L442.6,297.8 L444.3,297.7 L446.0,297.7 L447.7,297.6 L449.3,297.5 L451.0,297.3 L452.7,296.8 L454.2,295.9 L455.2,294.8 L455.7,294.3 L455.7,294.7 L455.3,295.4 L455.0,295.7 L455.4,295.7 L456.7,295.6 L458.4,295.6 L460.3,295.6 L462.3,295.6 L464.3,295.7 L466.1,295.8 L467.4,295.9 L468.1,295.9 L468.1,295.3 L468.3,294.5 L469.0,294.1 L469.7,294.3 L470.1,295.0 L470.4,296.3 L470.9,298.5 L473.2,300.9 L476.6,301.3 L479.0,299.8 L480.1,298.3 L480.6,297.6 L481.1,297.5 L481.3,297.9 L481.2,298.4 L481.0,298.8 L481.4,298.8 L482.5,298.8 L483.9,298.9 L485.6,299.0 L487.4,299.1 L489.4,299.1 L491.5,299.0 L493.7,298.7 L495.9,297.9 L497.7,297.0 L499.2,296.1 L500.5,295.3 L501.5,294.9 L502.3,294.7 L502.9,294.7 L503.3,294.8 L504.0,294.8 L505.0,294.8 L506.2,294.9 L507.5,295.1 L509.0,295.4 L510.6,295.7 L512.3,296.0 L514.0,296.3 L515.6,296.5 L517.3,296.7 L519.0,297.0 L520.6,297.2 L522.2,297.5 L524.7,297.8 L525.9,298.0 L526.8,298.1 L526.8,284.5 L525.9,284.3 L524.7,284.1 L524.3,284.0 L522.7,283.7 L521.0,283.5 L519.3,283.2 L517.6,283.0 L516.0,282.7 L514.6,282.5 L513.1,282.3 L511.5,282.0 L509.7,281.7 L507.9,281.3 L506.0,281.1 L503.9,281.0 L501.7,281.2 L499.4,281.8 L497.4,282.7 L495.9,283.7 L494.5,284.5 L493.4,285.0 L492.5,285.3 L491.8,285.4 L491.3,285.3 L490.5,285.3 L489.4,285.3 L487.9,285.3 L486.3,285.2 L484.6,285.1 L482.8,285.0 L481.0,285.0 L479.0,285.2 L476.8,286.0 L475.1,287.4 L474.1,288.6 L473.4,289.5 L473.0,289.7 L473.1,288.9 L474.6,287.8 L476.8,288.1 L478.0,289.9 L477.6,291.1 L477.0,291.0 L476.6,290.1 L476.2,288.7 L475.6,286.8 L474.2,284.7 L471.9,283.1 L469.6,282.5 L467.4,282.1 L465.1,281.9 L462.7,281.8 L460.4,281.8 L458.2,281.8 L456.3,281.8 L454.6,281.9 L452.9,282.2 L451.2,282.8 L449.8,283.9 L449.0,284.8 L448.7,284.9 L448.9,284.3 L449.2,283.9 L449.0,283.7 L448.2,283.8 L447.0,283.8 L445.5,283.9 L443.8,283.9 L442.0,284.0 L440.2,284.1 L438.3,284.3 L436.4,284.6 L434.8,284.9 L433.2,285.3 L431.7,285.7 L430.2,286.2 L428.8,286.7 L427.5,287.3 L426.2,287.8 L425.0,288.4 L423.8,289.0 L422.6,289.6 L421.5,290.3 L420.5,291.1 L419.5,291.8 L418.5,292.7 L417.5,293.5 L416.4,294.6 L415.4,295.9 L414.4,297.3 L413.4,298.6 L412.5,299.7 L411.5,300.6 L410.6,301.2 L409.9,301.2 L409.7,300.6 L410.4,299.9 L411.2,299.7 L411.6,299.9 L411.4,300.0 L410.7,299.8 L409.6,299.3 L407.9,298.7 L406.0,298.6 L404.7,298.8 L403.8,299.0 L402.7,299.3 L401.6,299.8 L400.5,300.5 L399.5,301.3 L398.6,302.3 L397.7,303.3 L397.0,304.3 L396.2,305.3 L395.5,306.3 L394.8,307.4 L394.0,308.5 L393.2,309.7 L392.3,311.0 L391.4,312.3 L390.3,313.8 L389.1,315.4 L387.9,317.1 L386.6,319.1 L385.3,321.1 L384.1,323.4 L382.8,325.7 L381.7,328.2 L380.5,330.9 L379.2,333.8 L378.0,336.8 L376.7,339.9 L375.4,343.0 L374.2,345.9 L373.0,348.7 L371.9,351.2 L371.0,353.5 L370.1,355.7 L369.3,357.7 L368.5,359.6 L367.8,361.4 L367.1,363.1 L366.4,364.7 L365.8,366.3 L365.2,367.7 L364.8,369.0 L364.4,370.2 L363.9,371.1 L363.4,372.0 L362.8,372.7 L362.2,373.4 L361.5,374.1 L360.7,374.9 L359.9,375.7 L359.1,376.6 L358.3,377.4 L357.4,378.3 L356.6,379.1 L355.8,379.8 L355.1,380.2 L354.6,380.1 L354.4,379.8 L354.1,379.6 L353.7,379.7 L352.9,380.3 L351.9,381.2 L351.0,382.5 L350.3,384.0 L349.7,385.3 L349.1,386.6 L348.5,387.9 L347.8,389.1 L347.2,390.4 L346.5,391.6 L345.8,392.7 L345.1,393.7 L344.6,394.9 L344.0,396.1 L343.4,397.3 L342.8,398.4 L342.1,399.2 L341.5,399.9 L340.8,400.1 L340.2,399.9 L340.0,399.3 L340.3,398.5 L341.0,397.8 L342.0,397.6 L342.6,397.7 L342.8,397.9 L342.7,398.0 L342.5,398.1 L342.5,398.5 L342.3,398.8 L341.9,398.7 L341.4,398.4 L340.8,397.8 L340.1,397.0 L339.3,396.0 L338.2,395.0 L337.0,394.2 L335.8,393.6 L334.8,393.2 L334.1,393.0 L333.5,392.9 L333.0,392.9 L332.7,393.1 L332.3,393.2 L331.8,393.3 L331.1,393.0 L330.3,392.4 L329.5,391.7 L328.7,390.9 L327.9,390.0 L327.2,389.0 L326.5,388.3 L325.9,387.9 L325.3,387.6 L324.8,387.0 L324.3,386.1 L323.7,384.7 L322.6,383.1 L320.8,381.7 L318.5,381.1 L316.5,381.2 L314.7,381.5 L313.1,382.0 L311.5,382.6 L309.9,383.3 L308.4,384.1 L307.0,384.9 L305.6,386.0 L304.3,387.2 L303.1,388.6 L302.0,389.8 L301.1,391.0 L300.1,391.9 L299.2,392.7 L298.3,393.2 L297.6,393.4 L297.0,393.5 L296.4,393.5 L295.7,393.7 L294.9,394.0 L293.8,394.6 L292.6,395.4 L291.3,396.6 L290.3,398.0 L289.4,399.4 L288.6,400.6 L287.8,401.9 L287.1,403.2 L286.4,404.5 L285.7,405.9 L285.0,407.3 L284.3,408.8 L283.7,410.3 L283.1,412.0 L282.5,413.7 L281.9,415.3 L281.2,417.0 L280.5,418.6 L279.8,420.2 L279.1,421.8 L278.4,423.4 L277.8,425.1 L277.1,426.7 L276.4,428.4 L275.7,429.9 L274.9,431.4 L274.1,432.7 L273.4,433.8 L272.6,434.8 L271.8,435.8 L271.1,436.6 L270.4,437.4 L269.7,438.1 L269.0,438.8 L268.3,439.5 L267.6,440.1 L266.8,440.7 L266.0,441.2 L265.3,441.7 L264.5,442.3 L263.7,442.9 L262.9,443.4 L262.2,443.9 L261.6,444.3 L261.2,444.4 L261.2,444.0 L261.4,443.6 L261.3,443.6 L260.7,444.0 L259.9,444.6 L259.0,445.3 L258.0,446.0 L256.8,446.9 L255.3,447.8 L253.7,448.9 L251.9,450.2 L250.0,451.5 L248.1,452.9 L246.2,454.4 L244.5,456.0 L242.8,457.6 L241.1,459.3 L239.5,460.9 L237.8,462.5 L236.2,464.1 L234.6,465.7 L233.0,467.1 L231.4,468.5 L229.7,470.0 L228.1,471.4 L226.4,472.9 L224.8,474.3 L223.1,475.7 L221.5,477.0 L219.9,478.2 L218.4,479.2 L217.0,480.1 L215.6,481.0 L214.1,481.9 L212.7,482.7 L211.2,483.6 L209.8,484.5 L208.5,485.6 L207.1,486.7 L206.0,488.1 L205.0,489.4 L204.3,490.6 L203.5,491.4 L202.9,491.8 L202.2,491.9 L201.7,491.7 L201.4,491.4 L201.0,491.2 L200.5,491.2 L199.7,491.3 L198.6,491.3 L197.3,491.4 L195.9,491.5 L194.2,491.7 L192.5,492.1 L191.0,492.4 L189.5,492.8 L188.0,493.1 L186.5,493.5 L185.0,493.9 L183.6,494.3 L182.1,494.8 L180.6,495.2 L179.1,495.7 L177.6,496.2 L176.0,496.7 L174.5,497.2 L173.0,497.7 L171.6,498.2 L170.2,498.7 L169.1,499.1 L168.0,499.5 L167.0,499.9 L166.1,500.3 L165.3,500.6 L164.6,501.0 L163.8,501.3 L163.1,501.6 L162.4,502.0 L161.6,502.4 L160.8,502.8 L160.1,503.2 L159.4,503.6 L158.8,503.9 L158.2,504.2 L157.7,504.4 L157.0,504.7 L156.3,505.2 L155.5,505.7 L154.9,506.0 L154.4,506.2 L154.1,506.2 L153.9,506.1 L153.9,505.9 L154.3,505.7 L154.8,505.8 L155.0,505.9 L154.7,506.0 L154.0,505.8 L153.1,505.4 L151.8,504.8 L150.1,504.4 L148.0,504.4 L145.9,505.1 L144.5,506.0 L143.4,506.8 L142.6,507.4 L141.9,507.6 L141.6,507.6 L141.7,507.2 L142.6,506.9 L143.5,507.1 L143.8,507.5 L143.7,507.8 L143.3,507.8 L142.8,507.5 L142.0,506.9 L141.1,506.0 L140.0,505.4 L139.3,505.0 L138.6,504.7 L137.8,504.3 L136.8,503.9 L135.7,503.4 L134.5,503.0 L133.1,502.7 L131.5,502.6 L129.9,502.7 L128.4,503.0 L127.2,503.4 L126.1,503.8 L125.2,504.0 L124.3,504.3 L123.4,504.4 L122.5,504.6 L121.4,504.7 L120.1,504.9 L118.7,505.1 L117.2,505.3 L115.6,505.5 L114.0,505.7 L112.3,506.0 L110.6,506.3 L108.9,506.6 L107.2,506.9 L105.4,507.2 L103.6,507.5 L101.8,507.8 L100.1,508.2 L98.3,508.5 L96.7,508.8 L95.1,509.2 L93.5,509.5 L91.9,509.8 L90.3,510.1 L88.7,510.5 L87.2,510.8 L85.7,511.2 L84.2,511.7 L82.6,512.2 L81.2,512.8 L80.0,513.4 L78.9,513.9 L78.0,514.2 L77.2,514.4 L76.6,514.5 L76.1,514.5 L75.4,514.5 L74.7,514.6 L73.9,514.6 L73.1,514.6 L72.2,514.6 L71.3,514.5 L70.3,514.4 L69.4,514.4 L68.7,514.3 L67.8,514.2 L66.9,514.1 L66.0,513.9 L63.6,513.5 L62.8,513.3 L62.1,513.2 L61.5,513.0Z" fill="#a0a0db" stroke="#a0a0db" stroke-width="0.6" stroke-linejoin="round" opacity="1"/>
<path d="M61.5,519.8 C62.7,520.0 66.1,521.0 68.8,521.2 C71.4,521.4 74.4,521.7 77.3,521.2 C80.2,520.7 82.5,519.1 86.0,518.1 C89.5,517.1 93.7,516.4 98.0,515.5 C102.3,514.6 107.4,513.7 111.7,513.0 C116.0,512.3 120.5,511.8 123.8,511.2 C127.0,510.7 129.2,509.5 131.5,509.5 C133.8,509.5 135.6,510.5 137.5,511.2 C139.4,512.0 140.8,513.8 142.7,513.8 C144.6,513.8 146.7,511.4 148.7,511.2 C150.7,511.1 152.8,512.7 154.7,512.6 C156.5,512.5 158.1,511.2 159.8,510.4 C161.5,509.6 163.1,508.6 165.0,507.8 C166.9,507.0 168.3,506.3 171.2,505.3 C174.2,504.3 178.8,502.7 182.5,501.6 C186.2,500.5 190.2,499.5 193.8,498.8 C197.3,498.0 201.2,498.5 204.0,497.2 C206.8,496.0 207.6,493.5 210.6,491.2 C213.6,489.0 217.8,486.9 221.9,483.8 C226.0,480.6 230.7,476.4 235.0,472.5 C239.3,468.6 243.6,463.9 248.0,460.3 C252.4,456.7 258.4,452.9 261.2,451.0 C264.1,449.1 263.3,450.2 265.0,448.9 C266.7,447.6 269.3,445.6 271.2,443.4 C273.2,441.2 274.9,439.0 276.7,435.6 C278.5,432.2 280.4,427.3 282.2,423.1 C284.0,418.9 285.8,414.1 287.7,410.6 C289.6,407.1 291.7,404.1 293.9,402.0 C296.1,399.9 298.5,399.9 301.0,398.1 C303.5,396.3 305.9,392.8 308.8,391.1 C311.6,389.4 315.8,387.9 318.1,388.0 C320.4,388.1 321.0,390.2 322.8,391.9 C324.6,393.6 326.9,396.7 329.0,398.1 C331.1,399.5 333.5,399.5 335.3,400.5 C337.1,401.5 338.6,403.5 340.0,404.0 C341.4,404.5 342.5,405.0 343.9,403.6 C345.3,402.2 346.9,398.5 348.6,395.8 C350.3,393.1 352.3,389.2 354.0,387.2 C355.7,385.2 356.9,385.8 358.8,384.0 C360.6,382.2 363.3,379.0 365.0,376.2 C366.7,373.5 367.1,371.5 368.8,367.5 C370.5,363.5 372.3,358.8 375.0,352.5 C377.7,346.2 381.7,336.2 385.0,330.0 C388.3,323.8 392.3,318.8 395.0,315.0 C397.7,311.2 399.4,309.1 401.3,307.5 C403.2,305.9 404.4,305.7 406.3,305.5 C408.2,305.3 410.2,307.4 412.5,306.3 C414.8,305.2 417.5,300.8 420.0,298.8 C422.5,296.8 424.6,295.6 427.5,294.3 C430.4,293.1 433.8,291.9 437.5,291.3 C441.2,290.7 447.1,290.9 450.0,290.5 C452.9,290.1 451.7,289.0 455.0,288.8 C458.3,288.6 466.7,288.6 470.0,289.5 C473.3,290.4 473.3,294.1 475.0,294.5 C476.7,294.9 477.1,292.4 480.0,292.0 C482.9,291.6 488.8,292.7 492.5,292.0 C496.2,291.3 498.8,288.4 502.5,288.0 C506.2,287.6 510.9,288.9 515.0,289.5 C519.0,290.1 524.8,291.0 526.8,291.3" fill="none" stroke="#2b3fa9" stroke-width="2.4" stroke-linejoin="round"/>
<path d="M41.0,455.8 H92.0" stroke="#262220" stroke-width="1.75"/>
<path d="M47.0,451.2 H100.0" stroke="#262220" stroke-width="1.75"/>
<path d="M70.0,450.1 H110.0" stroke="#262220" stroke-width="1.75"/>
<path d="M70.0,454.7 H122.0" stroke="#262220" stroke-width="1.75"/>
<path d="M88.0,448.7 H125.0" stroke="#262220" stroke-width="1.75"/>
<path d="M101.0,447.5 H130.0" stroke="#262220" stroke-width="1.75"/>
<path d="M112.5,444.5 H137.5" stroke="#262220" stroke-width="1.75"/>
<path d="M117.5,443.0 H155.0" stroke="#262220" stroke-width="1.75"/>
<path d="M130.0,444.0 H155.0" stroke="#262220" stroke-width="1.75"/>
<path d="M113.8,420.8 H158.8" stroke="#262220" stroke-width="1.75"/>
<path d="M127.5,437.5 H172.5" stroke="#262220" stroke-width="1.75"/>
<path d="M142.5,441.3 H170.0" stroke="#262220" stroke-width="1.75"/>
<path d="M147.5,441.8 H175.0" stroke="#262220" stroke-width="1.75"/>
<path d="M160.0,443.0 H187.5" stroke="#262220" stroke-width="1.75"/>
<path d="M153.8,430.0 H195.0" stroke="#262220" stroke-width="1.75"/>
<path d="M162.5,439.5 H190.0" stroke="#262220" stroke-width="1.75"/>
<path d="M168.8,442.0 H197.5" stroke="#262220" stroke-width="1.75"/>
<path d="M168.8,447.0 H208.8" stroke="#262220" stroke-width="1.75"/>
<path d="M180.0,439.5 H210.0" stroke="#262220" stroke-width="1.75"/>
<path d="M182.5,442.0 H212.5" stroke="#262220" stroke-width="1.75"/>
<path d="M186.0,442.0 H215.0" stroke="#262220" stroke-width="1.75"/>
<path d="M180.0,439.5 H208.0" stroke="#262220" stroke-width="1.75"/>
<path d="M185.0,434.0 H221.0" stroke="#262220" stroke-width="1.75"/>
<path d="M189.0,424.4 H225.6" stroke="#262220" stroke-width="1.75"/>
<path d="M192.0,420.0 H227.5" stroke="#262220" stroke-width="1.75"/>
<path d="M194.7,402.0 H229.4" stroke="#262220" stroke-width="1.75"/>
<path d="M197.5,395.0 H232.0" stroke="#262220" stroke-width="1.75"/>
<path d="M201.0,379.4 H236.0" stroke="#262220" stroke-width="1.75"/>
<path d="M207.8,380.2 H242.0" stroke="#262220" stroke-width="1.75"/>
<path d="M214.4,358.8 H247.2" stroke="#262220" stroke-width="1.75"/>
<path d="M219.6,341.0 H251.5" stroke="#262220" stroke-width="1.75"/>
<path d="M225.3,336.0 H255.6" stroke="#262220" stroke-width="1.75"/>
<path d="M230.0,336.0 H261.0" stroke="#262220" stroke-width="1.75"/>
<path d="M237.0,332.8 H267.0" stroke="#262220" stroke-width="1.75"/>
<path d="M244.8,324.7 H272.5" stroke="#262220" stroke-width="1.75"/>
<path d="M249.0,322.3 H276.0" stroke="#262220" stroke-width="1.75"/>
<path d="M253.8,319.0 H280.4" stroke="#262220" stroke-width="1.75"/>
<path d="M259.0,311.6 H284.0" stroke="#262220" stroke-width="1.75"/>
<path d="M267.0,311.6 H292.0" stroke="#262220" stroke-width="1.75"/>
<path d="M283.3,276.8 H297.3" stroke="#262220" stroke-width="1.75"/>
<path d="M288.8,278.3 H302.8" stroke="#262220" stroke-width="1.75"/>
<path d="M293.6,278.7 H307.6" stroke="#262220" stroke-width="1.75"/>
<path d="M297.5,276.5 H311.5" stroke="#262220" stroke-width="1.75"/>
<path d="M300.2,285.3 H314.2" stroke="#262220" stroke-width="1.75"/>
<path d="M305.6,281.6 H319.6" stroke="#262220" stroke-width="1.75"/>
<path d="M310.7,280.5 H324.7" stroke="#262220" stroke-width="1.75"/>
<path d="M315.0,283.1 H329.0" stroke="#262220" stroke-width="1.75"/>
<path d="M320.5,279.0 H334.5" stroke="#262220" stroke-width="1.75"/>
<path d="M329.3,282.0 H343.3" stroke="#262220" stroke-width="1.75"/>
<path d="M333.0,282.2 H347.0" stroke="#262220" stroke-width="1.75"/>
<path d="M324.2,293.0 H338.2" stroke="#262220" stroke-width="1.75"/>
<path d="M340.9,272.8 H354.9" stroke="#262220" stroke-width="1.75"/>
<path d="M343.5,263.6 H357.5" stroke="#262220" stroke-width="1.75"/>
<path d="M347.2,252.7 H361.2" stroke="#262220" stroke-width="1.75"/>
<path d="M349.0,257.0 H363.0" stroke="#262220" stroke-width="1.75"/>
<path d="M351.6,256.4 H365.6" stroke="#262220" stroke-width="1.75"/>
<path d="M355.5,238.3 H369.5" stroke="#262220" stroke-width="1.75"/>
<path d="M357.0,241.8 H371.0" stroke="#262220" stroke-width="1.75"/>
<path d="M354.4,239.6 H368.4" stroke="#262220" stroke-width="1.75"/>
<path d="M362.0,228.6 H376.0" stroke="#262220" stroke-width="1.75"/>
<path d="M364.3,223.6 H378.3" stroke="#262220" stroke-width="1.75"/>
<path d="M367.5,212.7 H381.5" stroke="#262220" stroke-width="1.75"/>
<path d="M366.4,206.0 H380.4" stroke="#262220" stroke-width="1.75"/>
<path d="M369.7,191.9 H383.7" stroke="#262220" stroke-width="1.75"/>
<path d="M370.8,198.0 H384.8" stroke="#262220" stroke-width="1.75"/>
<path d="M375.2,194.0 H389.2" stroke="#262220" stroke-width="1.75"/>
<path d="M378.5,195.8 H392.5" stroke="#262220" stroke-width="1.75"/>
<path d="M381.0,191.2 H395.0" stroke="#262220" stroke-width="1.75"/>
<path d="M386.0,193.0 H400.0" stroke="#262220" stroke-width="1.75"/>
<path d="M389.4,183.6 H403.4" stroke="#262220" stroke-width="1.75"/>
<path d="M392.7,191.9 H406.7" stroke="#262220" stroke-width="1.75"/>
<path d="M397.0,187.0 H411.0" stroke="#262220" stroke-width="1.75"/>
<path d="M399.2,185.3 H413.2" stroke="#262220" stroke-width="1.75"/>
<path d="M402.0,183.6 H416.0" stroke="#262220" stroke-width="1.75"/>
<path d="M404.7,191.9 H418.7" stroke="#262220" stroke-width="1.75"/>
<path d="M386.3,192.7 H398.3" stroke="#262220" stroke-width="1.75"/>
<path d="M390.6,183.3 H402.6" stroke="#262220" stroke-width="1.75"/>
<path d="M394.5,190.8 H406.5" stroke="#262220" stroke-width="1.75"/>
<path d="M398.0,187.3 H410.0" stroke="#262220" stroke-width="1.75"/>
<path d="M400.3,183.3 H416.3" stroke="#262220" stroke-width="1.75"/>
<path d="M405.3,189.6 H419.3" stroke="#262220" stroke-width="1.75"/>
<path d="M406.4,192.6 H420.4" stroke="#262220" stroke-width="1.75"/>
<path d="M409.7,196.6 H425.7" stroke="#262220" stroke-width="1.75"/>
<path d="M415.8,194.3 H429.8" stroke="#262220" stroke-width="1.75"/>
<path d="M424.7,196.0 H438.7" stroke="#262220" stroke-width="1.75"/>
<path d="M427.5,199.0 H441.5" stroke="#262220" stroke-width="1.75"/>
<path d="M428.0,206.0 H448.0" stroke="#262220" stroke-width="1.75"/>
<path d="M434.9,191.2 H452.9" stroke="#262220" stroke-width="1.75"/>
<path d="M437.4,195.5 H457.4" stroke="#262220" stroke-width="1.75"/>
<path d="M441.4,196.6 H461.4" stroke="#262220" stroke-width="1.75"/>
<path d="M443.4,202.0 H465.4" stroke="#262220" stroke-width="1.75"/>
<path d="M446.0,210.7 H470.0" stroke="#262220" stroke-width="1.75"/>
<path d="M451.5,207.2 H471.5" stroke="#262220" stroke-width="1.75"/>
<path d="M454.5,205.3 H474.5" stroke="#262220" stroke-width="1.75"/>
<path d="M457.3,211.9 H477.3" stroke="#262220" stroke-width="1.75"/>
<path d="M460.9,202.5 H480.9" stroke="#262220" stroke-width="1.75"/>
<path d="M465.5,206.7 H485.5" stroke="#262220" stroke-width="1.75"/>
<path d="M468.6,203.7 H488.6" stroke="#262220" stroke-width="1.75"/>
<path d="M471.9,213.7 H491.9" stroke="#262220" stroke-width="1.75"/>
<path d="M476.0,210.0 H496.0" stroke="#262220" stroke-width="1.75"/>
<path d="M480.3,206.0 H500.3" stroke="#262220" stroke-width="1.75"/>
<path d="M483.8,210.7 H503.8" stroke="#262220" stroke-width="1.75"/>
<path d="M487.8,208.4 H507.8" stroke="#262220" stroke-width="1.75"/>
<path d="M491.3,207.2 H511.3" stroke="#262220" stroke-width="1.75"/>
<path d="M492.0,213.7 H520.0" stroke="#262220" stroke-width="1.75"/>
<path d="M494.3,206.7 H522.3" stroke="#262220" stroke-width="1.75"/>
<path d="M495.4,199.0 H527.4" stroke="#262220" stroke-width="1.75"/>
<path d="M500.2,200.6 H528.2" stroke="#262220" stroke-width="1.75"/>
<path d="M501.4,215.4 H535.4" stroke="#262220" stroke-width="1.75"/>
<path d="M504.8,214.2 H536.8" stroke="#262220" stroke-width="1.75"/>
<path d="M508.9,199.0 H536.9" stroke="#262220" stroke-width="1.75"/>
<circle cx="69.5" cy="455.8" r="3.45" fill="#f2eb66" stroke="#33300f" stroke-width="0.85"/>
<circle cx="74.9" cy="451.2" r="3.45" fill="#f2eb66" stroke="#33300f" stroke-width="0.85"/>
<circle cx="87.5" cy="450.1" r="3.45" fill="#f2eb66" stroke="#33300f" stroke-width="0.85"/>
<circle cx="96.8" cy="454.7" r="3.45" fill="#f2eb66" stroke="#33300f" stroke-width="0.85"/>
<circle cx="105.2" cy="448.7" r="3.45" fill="#f2eb66" stroke="#33300f" stroke-width="0.85"/>
<circle cx="115.0" cy="447.5" r="3.45" fill="#f2eb66" stroke="#33300f" stroke-width="0.85"/>
<circle cx="125.0" cy="444.5" r="3.45" fill="#f2eb66" stroke="#33300f" stroke-width="0.85"/>
<circle cx="137.0" cy="443.0" r="3.45" fill="#f2eb66" stroke="#33300f" stroke-width="0.85"/>
<circle cx="142.5" cy="444.0" r="3.45" fill="#f2eb66" stroke="#33300f" stroke-width="0.85"/>
<circle cx="135.8" cy="420.8" r="3.45" fill="#f2eb66" stroke="#33300f" stroke-width="0.85"/>
<circle cx="149.5" cy="437.5" r="3.45" fill="#f2eb66" stroke="#33300f" stroke-width="0.85"/>
<circle cx="157.0" cy="441.3" r="3.45" fill="#f2eb66" stroke="#33300f" stroke-width="0.85"/>
<circle cx="162.0" cy="441.8" r="3.45" fill="#f2eb66" stroke="#33300f" stroke-width="0.85"/>
<circle cx="173.0" cy="443.0" r="3.45" fill="#f2eb66" stroke="#33300f" stroke-width="0.85"/>
<circle cx="174.5" cy="430.0" r="3.45" fill="#f2eb66" stroke="#33300f" stroke-width="0.85"/>
<circle cx="175.8" cy="439.5" r="3.45" fill="#f2eb66" stroke="#33300f" stroke-width="0.85"/>
<circle cx="182.5" cy="442.0" r="3.45" fill="#f2eb66" stroke="#33300f" stroke-width="0.85"/>
<circle cx="188.3" cy="447.0" r="3.45" fill="#f2eb66" stroke="#33300f" stroke-width="0.85"/>
<circle cx="193.8" cy="439.5" r="3.45" fill="#f2eb66" stroke="#33300f" stroke-width="0.85"/>
<circle cx="197.5" cy="442.0" r="3.45" fill="#f2eb66" stroke="#33300f" stroke-width="0.85"/>
<circle cx="200.5" cy="442.0" r="3.45" fill="#f2eb66" stroke="#33300f" stroke-width="0.85"/>
<circle cx="194.0" cy="439.5" r="3.45" fill="#f2eb66" stroke="#33300f" stroke-width="0.85"/>
<circle cx="202.8" cy="434.0" r="3.45" fill="#f2eb66" stroke="#33300f" stroke-width="0.85"/>
<circle cx="206.9" cy="424.4" r="3.45" fill="#f2eb66" stroke="#33300f" stroke-width="0.85"/>
<circle cx="209.3" cy="420.0" r="3.45" fill="#f2eb66" stroke="#33300f" stroke-width="0.85"/>
<circle cx="212.0" cy="402.0" r="3.45" fill="#f2eb66" stroke="#33300f" stroke-width="0.85"/>
<circle cx="214.4" cy="395.0" r="3.45" fill="#f2eb66" stroke="#33300f" stroke-width="0.85"/>
<circle cx="218.5" cy="379.4" r="3.45" fill="#f2eb66" stroke="#33300f" stroke-width="0.85"/>
<circle cx="224.7" cy="380.2" r="3.45" fill="#f2eb66" stroke="#33300f" stroke-width="0.85"/>
<circle cx="230.7" cy="358.8" r="3.45" fill="#f2eb66" stroke="#33300f" stroke-width="0.85"/>
<circle cx="235.4" cy="341.0" r="3.45" fill="#f2eb66" stroke="#33300f" stroke-width="0.85"/>
<circle cx="240.6" cy="336.0" r="3.45" fill="#f2eb66" stroke="#33300f" stroke-width="0.85"/>
<circle cx="245.3" cy="336.0" r="3.45" fill="#f2eb66" stroke="#33300f" stroke-width="0.85"/>
<circle cx="251.9" cy="332.8" r="3.45" fill="#f2eb66" stroke="#33300f" stroke-width="0.85"/>
<circle cx="258.8" cy="324.7" r="3.45" fill="#f2eb66" stroke="#33300f" stroke-width="0.85"/>
<circle cx="262.8" cy="322.3" r="3.45" fill="#f2eb66" stroke="#33300f" stroke-width="0.85"/>
<circle cx="266.9" cy="319.0" r="3.45" fill="#f2eb66" stroke="#33300f" stroke-width="0.85"/>
<circle cx="272.0" cy="311.6" r="3.45" fill="#f2eb66" stroke="#33300f" stroke-width="0.85"/>
<circle cx="279.4" cy="311.6" r="3.45" fill="#f2eb66" stroke="#33300f" stroke-width="0.85"/>
<circle cx="290.3" cy="276.8" r="3.45" fill="#f2eb66" stroke="#33300f" stroke-width="0.85"/>
<circle cx="295.8" cy="278.3" r="3.45" fill="#f2eb66" stroke="#33300f" stroke-width="0.85"/>
<circle cx="300.6" cy="278.7" r="3.45" fill="#f2eb66" stroke="#33300f" stroke-width="0.85"/>
<circle cx="304.5" cy="276.5" r="3.45" fill="#f2eb66" stroke="#33300f" stroke-width="0.85"/>
<circle cx="307.2" cy="285.3" r="3.45" fill="#f2eb66" stroke="#33300f" stroke-width="0.85"/>
<circle cx="312.6" cy="281.6" r="3.45" fill="#f2eb66" stroke="#33300f" stroke-width="0.85"/>
<circle cx="317.7" cy="280.5" r="3.45" fill="#f2eb66" stroke="#33300f" stroke-width="0.85"/>
<circle cx="322.0" cy="283.1" r="3.45" fill="#f2eb66" stroke="#33300f" stroke-width="0.85"/>
<circle cx="327.5" cy="279.0" r="3.45" fill="#f2eb66" stroke="#33300f" stroke-width="0.85"/>
<circle cx="336.3" cy="282.0" r="3.45" fill="#f2eb66" stroke="#33300f" stroke-width="0.85"/>
<circle cx="340.0" cy="282.2" r="3.45" fill="#f2eb66" stroke="#33300f" stroke-width="0.85"/>
<circle cx="331.2" cy="293.0" r="3.45" fill="#f2eb66" stroke="#33300f" stroke-width="0.85"/>
<circle cx="347.9" cy="272.8" r="3.45" fill="#f2eb66" stroke="#33300f" stroke-width="0.85"/>
<circle cx="350.5" cy="263.6" r="3.45" fill="#f2eb66" stroke="#33300f" stroke-width="0.85"/>
<circle cx="354.2" cy="252.7" r="3.45" fill="#f2eb66" stroke="#33300f" stroke-width="0.85"/>
<circle cx="356.0" cy="257.0" r="3.45" fill="#f2eb66" stroke="#33300f" stroke-width="0.85"/>
<circle cx="358.6" cy="256.4" r="3.45" fill="#f2eb66" stroke="#33300f" stroke-width="0.85"/>
<circle cx="362.5" cy="238.3" r="3.45" fill="#f2eb66" stroke="#33300f" stroke-width="0.85"/>
<circle cx="364.0" cy="241.8" r="3.45" fill="#f2eb66" stroke="#33300f" stroke-width="0.85"/>
<circle cx="361.4" cy="239.6" r="3.45" fill="#f2eb66" stroke="#33300f" stroke-width="0.85"/>
<circle cx="369.0" cy="228.6" r="3.45" fill="#f2eb66" stroke="#33300f" stroke-width="0.85"/>
<circle cx="371.3" cy="223.6" r="3.45" fill="#f2eb66" stroke="#33300f" stroke-width="0.85"/>
<circle cx="374.5" cy="212.7" r="3.45" fill="#f2eb66" stroke="#33300f" stroke-width="0.85"/>
<circle cx="373.4" cy="206.0" r="3.45" fill="#f2eb66" stroke="#33300f" stroke-width="0.85"/>
<circle cx="376.7" cy="191.9" r="3.45" fill="#f2eb66" stroke="#33300f" stroke-width="0.85"/>
<circle cx="377.8" cy="198.0" r="3.45" fill="#f2eb66" stroke="#33300f" stroke-width="0.85"/>
<circle cx="382.2" cy="194.0" r="3.45" fill="#f2eb66" stroke="#33300f" stroke-width="0.85"/>
<circle cx="385.5" cy="195.8" r="3.45" fill="#f2eb66" stroke="#33300f" stroke-width="0.85"/>
<circle cx="388.0" cy="191.2" r="3.45" fill="#f2eb66" stroke="#33300f" stroke-width="0.85"/>
<circle cx="393.0" cy="193.0" r="3.45" fill="#f2eb66" stroke="#33300f" stroke-width="0.85"/>
<circle cx="396.4" cy="183.6" r="3.45" fill="#f2eb66" stroke="#33300f" stroke-width="0.85"/>
<circle cx="399.7" cy="191.9" r="3.45" fill="#f2eb66" stroke="#33300f" stroke-width="0.85"/>
<circle cx="404.0" cy="187.0" r="3.45" fill="#f2eb66" stroke="#33300f" stroke-width="0.85"/>
<circle cx="406.2" cy="185.3" r="3.45" fill="#f2eb66" stroke="#33300f" stroke-width="0.85"/>
<circle cx="409.0" cy="183.6" r="3.45" fill="#f2eb66" stroke="#33300f" stroke-width="0.85"/>
<circle cx="411.7" cy="191.9" r="3.45" fill="#f2eb66" stroke="#33300f" stroke-width="0.85"/>
<circle cx="392.3" cy="192.7" r="3.45" fill="#f2eb66" stroke="#33300f" stroke-width="0.85"/>
<circle cx="396.6" cy="183.3" r="3.45" fill="#f2eb66" stroke="#33300f" stroke-width="0.85"/>
<circle cx="400.5" cy="190.8" r="3.45" fill="#f2eb66" stroke="#33300f" stroke-width="0.85"/>
<circle cx="404.0" cy="187.3" r="3.45" fill="#f2eb66" stroke="#33300f" stroke-width="0.85"/>
<circle cx="408.3" cy="183.3" r="3.45" fill="#f2eb66" stroke="#33300f" stroke-width="0.85"/>
<circle cx="412.3" cy="189.6" r="3.45" fill="#f2eb66" stroke="#33300f" stroke-width="0.85"/>
<circle cx="413.4" cy="192.6" r="3.45" fill="#f2eb66" stroke="#33300f" stroke-width="0.85"/>
<circle cx="417.7" cy="196.6" r="3.45" fill="#f2eb66" stroke="#33300f" stroke-width="0.85"/>
<circle cx="422.8" cy="194.3" r="3.45" fill="#f2eb66" stroke="#33300f" stroke-width="0.85"/>
<circle cx="431.7" cy="196.0" r="3.45" fill="#f2eb66" stroke="#33300f" stroke-width="0.85"/>
<circle cx="434.5" cy="199.0" r="3.45" fill="#f2eb66" stroke="#33300f" stroke-width="0.85"/>
<circle cx="438.0" cy="206.0" r="3.45" fill="#f2eb66" stroke="#33300f" stroke-width="0.85"/>
<circle cx="443.9" cy="191.2" r="3.45" fill="#f2eb66" stroke="#33300f" stroke-width="0.85"/>
<circle cx="447.4" cy="195.5" r="3.45" fill="#f2eb66" stroke="#33300f" stroke-width="0.85"/>
<circle cx="451.4" cy="196.6" r="3.45" fill="#f2eb66" stroke="#33300f" stroke-width="0.85"/>
<circle cx="454.4" cy="202.0" r="3.45" fill="#f2eb66" stroke="#33300f" stroke-width="0.85"/>
<circle cx="458.0" cy="210.7" r="3.45" fill="#f2eb66" stroke="#33300f" stroke-width="0.85"/>
<circle cx="461.5" cy="207.2" r="3.45" fill="#f2eb66" stroke="#33300f" stroke-width="0.85"/>
<circle cx="464.5" cy="205.3" r="3.45" fill="#f2eb66" stroke="#33300f" stroke-width="0.85"/>
<circle cx="467.3" cy="211.9" r="3.45" fill="#f2eb66" stroke="#33300f" stroke-width="0.85"/>
<circle cx="470.9" cy="202.5" r="3.45" fill="#f2eb66" stroke="#33300f" stroke-width="0.85"/>
<circle cx="475.5" cy="206.7" r="3.45" fill="#f2eb66" stroke="#33300f" stroke-width="0.85"/>
<circle cx="478.6" cy="203.7" r="3.45" fill="#f2eb66" stroke="#33300f" stroke-width="0.85"/>
<circle cx="481.9" cy="213.7" r="3.45" fill="#f2eb66" stroke="#33300f" stroke-width="0.85"/>
<circle cx="486.0" cy="210.0" r="3.45" fill="#f2eb66" stroke="#33300f" stroke-width="0.85"/>
<circle cx="490.3" cy="206.0" r="3.45" fill="#f2eb66" stroke="#33300f" stroke-width="0.85"/>
<circle cx="493.8" cy="210.7" r="3.45" fill="#f2eb66" stroke="#33300f" stroke-width="0.85"/>
<circle cx="497.8" cy="208.4" r="3.45" fill="#f2eb66" stroke="#33300f" stroke-width="0.85"/>
<circle cx="501.3" cy="207.2" r="3.45" fill="#f2eb66" stroke="#33300f" stroke-width="0.85"/>
<circle cx="506.0" cy="213.7" r="3.45" fill="#f2eb66" stroke="#33300f" stroke-width="0.85"/>
<circle cx="508.3" cy="206.7" r="3.45" fill="#f2eb66" stroke="#33300f" stroke-width="0.85"/>
<circle cx="511.4" cy="199.0" r="3.45" fill="#f2eb66" stroke="#33300f" stroke-width="0.85"/>
<circle cx="514.2" cy="200.6" r="3.45" fill="#f2eb66" stroke="#33300f" stroke-width="0.85"/>
<circle cx="518.4" cy="215.4" r="3.45" fill="#f2eb66" stroke="#33300f" stroke-width="0.85"/>
<circle cx="520.8" cy="214.2" r="3.45" fill="#f2eb66" stroke="#33300f" stroke-width="0.85"/>
<circle cx="522.9" cy="199.0" r="3.45" fill="#f2eb66" stroke="#33300f" stroke-width="0.85"/>
<path d="M90.9,260.5 C92.4,260.2 95.2,259.2 100.0,259.0 C104.8,258.8 114.2,259.0 120.0,259.0 C125.8,259.0 130.5,259.2 135.0,259.0 C139.5,258.8 143.0,259.0 147.2,257.7 C151.4,256.4 155.8,253.3 160.0,251.0 C164.2,248.7 169.0,244.2 172.5,243.6 C176.0,243.0 177.8,247.3 181.0,247.2 C184.2,247.1 187.8,244.8 192.0,243.0 C196.2,241.2 201.5,238.8 206.2,236.6 C210.9,234.4 213.5,232.6 220.0,230.0 C226.5,227.4 236.7,225.2 245.0,221.0 C253.3,216.8 261.7,211.2 270.0,205.0 C278.3,198.8 286.7,190.9 295.0,183.8 C303.3,176.7 311.7,169.3 320.0,162.5 C328.3,155.7 338.3,147.6 345.0,143.0 C351.7,138.4 354.6,137.6 360.0,135.0 C365.4,132.4 372.5,130.7 377.5,127.5 C382.5,124.3 385.8,120.2 390.0,116.0 C394.2,111.8 398.3,106.8 402.5,102.5 C406.7,98.2 410.8,94.0 415.0,90.0 C419.2,86.0 423.3,82.0 427.5,78.8 C431.7,75.6 435.8,73.5 440.0,71.0 C444.2,68.5 448.6,66.4 452.5,63.8 C456.4,61.2 460.8,59.1 463.4,55.5 C466.0,51.9 465.4,45.2 468.0,42.0 C470.6,38.8 475.8,38.0 479.0,36.0 C482.2,34.0 484.4,31.9 487.0,29.7 C489.6,27.5 492.1,24.4 494.7,22.7 C497.3,21.0 499.6,20.7 502.5,19.5 C505.4,18.3 508.8,17.3 511.9,15.6 C515.0,13.9 519.5,10.4 521.0,9.4" fill="none" stroke="#74c64d" stroke-width="2.1" stroke-linejoin="round"/>
<path d="M156.8,235.7 L161.4,240.3 L156.8,244.9 L152.2,240.3 Z" fill="#176b3c"/>
<path d="M161.7,239.0 L166.3,243.6 L161.7,248.2 L157.1,243.6 Z" fill="#176b3c"/>
<path d="M165.0,242.3 L169.6,246.9 L165.0,251.5 L160.4,246.9 Z" fill="#176b3c"/>
<path d="M167.7,239.0 L172.3,243.6 L167.7,248.2 L163.1,243.6 Z" fill="#176b3c"/>
<path d="M155.0,241.4 L159.6,246.0 L155.0,250.6 L150.4,246.0 Z" fill="#176b3c"/>
<path d="M160.0,243.9 L164.6,248.5 L160.0,253.1 L155.4,248.5 Z" fill="#176b3c"/>
<path d="M86.2,262.3 L90.8,266.9 L86.2,271.5 L81.6,266.9 Z" fill="#176b3c"/>
<path d="M100.2,259.2 L104.8,263.8 L100.2,268.4 L95.6,263.8 Z" fill="#176b3c"/>
<path d="M119.6,259.0 L124.2,263.6 L119.6,268.2 L115.0,263.6 Z" fill="#176b3c"/>
<path d="M130.3,236.2 L134.9,240.8 L130.3,245.4 L125.7,240.8 Z" fill="#176b3c"/>
<path d="M139.3,232.0 L143.9,236.6 L139.3,241.2 L134.7,236.6 Z" fill="#176b3c"/>
<path d="M142.4,243.8 L147.0,248.4 L142.4,253.0 L137.8,248.4 Z" fill="#176b3c"/>
<path d="M138.2,262.3 L142.8,266.9 L138.2,271.5 L133.6,266.9 Z" fill="#176b3c"/>
<path d="M141.6,257.8 L146.2,262.4 L141.6,267.0 L137.0,262.4 Z" fill="#176b3c"/>
<path d="M144.4,255.9 L149.0,260.5 L144.4,265.1 L139.8,260.5 Z" fill="#176b3c"/>
<path d="M150.6,256.7 L155.2,261.3 L150.6,265.9 L146.0,261.3 Z" fill="#176b3c"/>
<path d="M152.8,244.6 L157.4,249.2 L152.8,253.8 L148.2,249.2 Z" fill="#176b3c"/>
<path d="M157.0,247.4 L161.6,252.0 L157.0,256.6 L152.4,252.0 Z" fill="#176b3c"/>
<path d="M158.4,230.6 L163.0,235.2 L158.4,239.8 L153.8,235.2 Z" fill="#176b3c"/>
<path d="M159.0,237.6 L163.6,242.2 L159.0,246.8 L154.4,242.2 Z" fill="#176b3c"/>
<path d="M162.6,241.8 L167.2,246.4 L162.6,251.0 L158.0,246.4 Z" fill="#176b3c"/>
<path d="M165.5,239.0 L170.1,243.6 L165.5,248.2 L160.9,243.6 Z" fill="#176b3c"/>
<path d="M169.7,231.4 L174.3,236.0 L169.7,240.6 L165.1,236.0 Z" fill="#176b3c"/>
<path d="M175.3,240.4 L179.9,245.0 L175.3,249.6 L170.7,245.0 Z" fill="#176b3c"/>
<path d="M178.1,238.1 L182.7,242.7 L178.1,247.3 L173.5,242.7 Z" fill="#176b3c"/>
<path d="M191.6,237.0 L196.2,241.6 L191.6,246.2 L187.0,241.6 Z" fill="#176b3c"/>
<path d="M194.4,240.4 L199.0,245.0 L194.4,249.6 L189.8,245.0 Z" fill="#176b3c"/>
<path d="M199.8,230.6 L204.4,235.2 L199.8,239.8 L195.2,235.2 Z" fill="#176b3c"/>
<path d="M208.2,226.9 L212.8,231.5 L208.2,236.1 L203.6,231.5 Z" fill="#176b3c"/>
<path d="M209.6,230.6 L214.2,235.2 L209.6,239.8 L205.0,235.2 Z" fill="#176b3c"/>
<path d="M214.1,220.7 L218.7,225.3 L214.1,229.9 L209.5,225.3 Z" fill="#176b3c"/>
<path d="M233.0,254.4 L237.6,259.0 L233.0,263.6 L228.4,259.0 Z" fill="#176b3c"/>
<path d="M237.2,224.9 L241.8,229.5 L237.2,234.1 L232.6,229.5 Z" fill="#176b3c"/>
<path d="M280.0,200.4 L284.6,205.0 L280.0,209.6 L275.4,205.0 Z" fill="#176b3c"/>
<path d="M286.3,202.9 L290.9,207.5 L286.3,212.1 L281.7,207.5 Z" fill="#176b3c"/>
<path d="M283.8,206.7 L288.4,211.2 L283.8,215.8 L279.1,211.2 Z" fill="#176b3c"/>
<path d="M290.0,210.4 L294.6,215.0 L290.0,219.6 L285.4,215.0 Z" fill="#176b3c"/>
<path d="M295.0,204.9 L299.6,209.5 L295.0,214.1 L290.4,209.5 Z" fill="#176b3c"/>
<path d="M237.5,225.4 L242.1,230.0 L237.5,234.6 L232.9,230.0 Z" fill="#176b3c"/>
<path d="M250.5,225.4 L255.1,230.0 L250.5,234.6 L245.9,230.0 Z" fill="#176b3c"/>
<path d="M269.5,224.9 L274.1,229.5 L269.5,234.1 L264.9,229.5 Z" fill="#176b3c"/>
<path d="M273.8,200.4 L278.4,205.0 L273.8,209.6 L269.2,205.0 Z" fill="#176b3c"/>
<path d="M278.8,204.9 L283.4,209.5 L278.8,214.1 L274.2,209.5 Z" fill="#176b3c"/>
<path d="M282.5,209.2 L287.1,213.8 L282.5,218.4 L277.9,213.8 Z" fill="#176b3c"/>
<path d="M285.5,212.9 L290.1,217.5 L285.5,222.1 L280.9,217.5 Z" fill="#176b3c"/>
<path d="M285.5,197.9 L290.1,202.5 L285.5,207.1 L280.9,202.5 Z" fill="#176b3c"/>
<path d="M288.8,205.4 L293.4,210.0 L288.8,214.6 L284.2,210.0 Z" fill="#176b3c"/>
<path d="M292.5,207.9 L297.1,212.5 L292.5,217.1 L287.9,212.5 Z" fill="#176b3c"/>
<path d="M293.8,201.7 L298.4,206.3 L293.8,210.9 L289.2,206.3 Z" fill="#176b3c"/>
<path d="M298.8,200.4 L303.4,205.0 L298.8,209.6 L294.2,205.0 Z" fill="#176b3c"/>
<path d="M282.5,171.7 L287.1,176.3 L282.5,180.9 L277.9,176.3 Z" fill="#176b3c"/>
<path d="M288.8,172.9 L293.4,177.5 L288.8,182.1 L284.2,177.5 Z" fill="#176b3c"/>
<path d="M292.5,173.4 L297.1,178.0 L292.5,182.6 L287.9,178.0 Z" fill="#176b3c"/>
<path d="M285.5,183.4 L290.1,188.0 L285.5,192.6 L280.9,188.0 Z" fill="#176b3c"/>
<path d="M290.0,186.7 L294.6,191.3 L290.0,195.9 L285.4,191.3 Z" fill="#176b3c"/>
<path d="M297.5,189.2 L302.1,193.8 L297.5,198.4 L292.9,193.8 Z" fill="#176b3c"/>
<path d="M302.5,187.4 L307.1,192.0 L302.5,196.6 L297.9,192.0 Z" fill="#176b3c"/>
<path d="M308.8,173.4 L313.4,178.0 L308.8,182.6 L304.2,178.0 Z" fill="#176b3c"/>
<path d="M313.0,160.4 L317.6,165.0 L313.0,169.6 L308.4,165.0 Z" fill="#176b3c"/>
<path d="M317.0,167.4 L321.6,172.0 L317.0,176.6 L312.4,172.0 Z" fill="#176b3c"/>
<path d="M315.0,163.4 L319.6,168.0 L315.0,172.6 L310.4,168.0 Z" fill="#176b3c"/>
<path d="M326.3,152.4 L330.9,157.0 L326.3,161.6 L321.7,157.0 Z" fill="#176b3c"/>
<path d="M330.0,161.7 L334.6,166.3 L330.0,170.9 L325.4,166.3 Z" fill="#176b3c"/>
<path d="M331.3,149.2 L335.9,153.8 L331.3,158.4 L326.7,153.8 Z" fill="#176b3c"/>
<path d="M333.8,152.9 L338.4,157.5 L333.8,162.1 L329.2,157.5 Z" fill="#176b3c"/>
<path d="M335.0,157.9 L339.6,162.5 L335.0,167.1 L330.4,162.5 Z" fill="#176b3c"/>
<path d="M337.0,141.7 L341.6,146.3 L337.0,150.9 L332.4,146.3 Z" fill="#176b3c"/>
<path d="M337.5,146.7 L342.1,151.3 L337.5,155.9 L332.9,151.3 Z" fill="#176b3c"/>
<path d="M340.0,154.2 L344.6,158.8 L340.0,163.4 L335.4,158.8 Z" fill="#176b3c"/>
<path d="M345.0,132.9 L349.6,137.5 L345.0,142.1 L340.4,137.5 Z" fill="#176b3c"/>
<path d="M350.0,129.2 L354.6,133.8 L350.0,138.4 L345.4,133.8 Z" fill="#176b3c"/>
<path d="M356.3,135.4 L360.9,140.0 L356.3,144.6 L351.7,140.0 Z" fill="#176b3c"/>
<path d="M357.5,129.2 L362.1,133.8 L357.5,138.4 L352.9,133.8 Z" fill="#176b3c"/>
<path d="M363.0,135.9 L367.6,140.5 L363.0,145.1 L358.4,140.5 Z" fill="#176b3c"/>
<path d="M376.3,135.9 L380.9,140.5 L376.3,145.1 L371.7,140.5 Z" fill="#176b3c"/>
<path d="M341.0,154.2 L345.6,158.8 L341.0,163.4 L336.4,158.8 Z" fill="#176b3c"/>
<path d="M348.0,127.4 L352.6,132.0 L348.0,136.6 L343.4,132.0 Z" fill="#176b3c"/>
<path d="M351.0,131.4 L355.6,136.0 L351.0,140.6 L346.4,136.0 Z" fill="#176b3c"/>
<path d="M355.0,130.4 L359.6,135.0 L355.0,139.6 L350.4,135.0 Z" fill="#176b3c"/>
<path d="M358.8,124.9 L363.4,129.5 L358.8,134.1 L354.2,129.5 Z" fill="#176b3c"/>
<path d="M360.0,134.2 L364.6,138.8 L360.0,143.4 L355.4,138.8 Z" fill="#176b3c"/>
<path d="M363.8,137.4 L368.4,142.0 L363.8,146.6 L359.2,142.0 Z" fill="#176b3c"/>
<path d="M375.0,127.9 L379.6,132.5 L375.0,137.1 L370.4,132.5 Z" fill="#176b3c"/>
<path d="M380.0,126.4 L384.6,131.0 L380.0,135.6 L375.4,131.0 Z" fill="#176b3c"/>
<path d="M383.0,123.4 L387.6,128.0 L383.0,132.6 L378.4,128.0 Z" fill="#176b3c"/>
<path d="M389.5,119.2 L394.1,123.8 L389.5,128.4 L384.9,123.8 Z" fill="#176b3c"/>
<path d="M393.8,117.9 L398.4,122.5 L393.8,127.1 L389.2,122.5 Z" fill="#176b3c"/>
<path d="M392.5,110.9 L397.1,115.5 L392.5,120.1 L387.9,115.5 Z" fill="#176b3c"/>
<path d="M388.8,99.2 L393.4,103.8 L388.8,108.4 L384.2,103.8 Z" fill="#176b3c"/>
<path d="M397.5,96.4 L402.1,101.0 L397.5,105.6 L392.9,101.0 Z" fill="#176b3c"/>
<path d="M401.0,103.4 L405.6,108.0 L401.0,112.6 L396.4,108.0 Z" fill="#176b3c"/>
<path d="M403.8,105.4 L408.4,110.0 L403.8,114.6 L399.2,110.0 Z" fill="#176b3c"/>
<path d="M405.5,93.4 L410.1,98.0 L405.5,102.6 L400.9,98.0 Z" fill="#176b3c"/>
<path d="M413.8,99.2 L418.4,103.8 L413.8,108.4 L409.2,103.8 Z" fill="#176b3c"/>
<path d="M417.5,103.4 L422.1,108.0 L417.5,112.6 L412.9,108.0 Z" fill="#176b3c"/>
<path d="M423.8,50.9 L428.4,55.5 L423.8,60.1 L419.2,55.5 Z" fill="#176b3c"/>
<path d="M423.8,90.4 L428.4,95.0 L423.8,99.6 L419.2,95.0 Z" fill="#176b3c"/>
<path d="M426.0,85.9 L430.6,90.5 L426.0,95.1 L421.4,90.5 Z" fill="#176b3c"/>
<path d="M423.8,76.4 L428.4,81.0 L423.8,85.6 L419.2,81.0 Z" fill="#176b3c"/>
<path d="M426.5,80.4 L431.1,85.0 L426.5,89.6 L421.9,85.0 Z" fill="#176b3c"/>
<path d="M432.0,72.4 L436.6,77.0 L432.0,81.6 L427.4,77.0 Z" fill="#176b3c"/>
<path d="M434.5,79.9 L439.1,84.5 L434.5,89.1 L429.9,84.5 Z" fill="#176b3c"/>
<path d="M433.0,75.4 L437.6,80.0 L433.0,84.6 L428.4,80.0 Z" fill="#176b3c"/>
<path d="M443.0,75.9 L447.6,80.5 L443.0,85.1 L438.4,80.5 Z" fill="#176b3c"/>
<path d="M448.0,76.4 L452.6,81.0 L448.0,85.6 L443.4,81.0 Z" fill="#176b3c"/>
<path d="M444.5,65.9 L449.1,70.5 L444.5,75.1 L439.9,70.5 Z" fill="#176b3c"/>
<path d="M447.5,66.7 L452.1,71.3 L447.5,75.9 L442.9,71.3 Z" fill="#176b3c"/>
<path d="M453.0,58.4 L457.6,63.0 L453.0,67.6 L448.4,63.0 Z" fill="#176b3c"/>
<path d="M458.0,50.9 L462.6,55.5 L458.0,60.1 L453.4,55.5 Z" fill="#176b3c"/>
<path d="M466.0,55.9 L470.6,60.5 L466.0,65.1 L461.4,60.5 Z" fill="#176b3c"/>
<path d="M444.7,65.7 L449.3,70.3 L444.7,74.9 L440.1,70.3 Z" fill="#176b3c"/>
<path d="M452.5,58.7 L457.1,63.3 L452.5,67.9 L447.9,63.3 Z" fill="#176b3c"/>
<path d="M458.4,50.9 L463.0,55.5 L458.4,60.1 L453.8,55.5 Z" fill="#176b3c"/>
<path d="M465.8,56.4 L470.4,61.0 L465.8,65.6 L461.2,61.0 Z" fill="#176b3c"/>
<path d="M470.5,35.2 L475.1,39.8 L470.5,44.4 L465.9,39.8 Z" fill="#176b3c"/>
<path d="M486.9,25.9 L491.5,30.5 L486.9,35.1 L482.3,30.5 Z" fill="#176b3c"/>
<path d="M487.7,29.0 L492.3,33.6 L487.7,38.2 L483.1,33.6 Z" fill="#176b3c"/>
<path d="M482.2,17.3 L486.8,21.9 L482.2,26.5 L477.6,21.9 Z" fill="#176b3c"/>
<path d="M486.0,12.6 L490.6,17.2 L486.0,21.8 L481.4,17.2 Z" fill="#176b3c"/>
<path d="M489.2,7.9 L493.8,12.5 L489.2,17.1 L484.6,12.5 Z" fill="#176b3c"/>
<path d="M497.0,4.8 L501.6,9.4 L497.0,14.0 L492.4,9.4 Z" fill="#176b3c"/>
<path d="M490.8,45.4 L495.4,50.0 L490.8,54.6 L486.2,50.0 Z" fill="#176b3c"/>
<path d="M497.0,48.4 L501.6,53.0 L497.0,57.6 L492.4,53.0 Z" fill="#176b3c"/>
<path d="M502.5,35.2 L507.1,39.8 L502.5,44.4 L497.9,39.8 Z" fill="#176b3c"/>
<path d="M505.6,30.6 L510.2,35.2 L505.6,39.8 L501.0,35.2 Z" fill="#176b3c"/>
<path d="M497.8,22.7 L502.4,27.3 L497.8,31.9 L493.2,27.3 Z" fill="#176b3c"/>
<path d="M501.7,20.4 L506.3,25.0 L501.7,29.6 L497.1,25.0 Z" fill="#176b3c"/>
<path d="M505.6,18.8 L510.2,23.4 L505.6,28.0 L501.0,23.4 Z" fill="#176b3c"/>
<path d="M504.8,10.2 L509.4,14.8 L504.8,19.4 L500.2,14.8 Z" fill="#176b3c"/>
<path d="M508.0,5.6 L512.6,10.2 L508.0,14.8 L503.4,10.2 Z" fill="#176b3c"/>
<path d="M510.3,15.7 L514.9,20.3 L510.3,24.9 L505.7,20.3 Z" fill="#176b3c"/>
<path d="M513.4,8.7 L518.0,13.3 L513.4,17.9 L508.8,13.3 Z" fill="#176b3c"/>
<path d="M515.0,17.3 L519.6,21.9 L515.0,26.5 L510.4,21.9 Z" fill="#176b3c"/>
<path d="M516.6,4.0 L521.2,8.6 L516.6,13.2 L512.0,8.6 Z" fill="#176b3c"/>
<path d="M518.0,10.2 L522.6,14.8 L518.0,19.4 L513.4,14.8 Z" fill="#176b3c"/>
<path d="M514.7,27.4 L519.3,32.0 L514.7,36.6 L510.1,32.0 Z" fill="#176b3c"/>
<path d="M518.0,21.2 L522.6,25.8 L518.0,30.4 L513.4,25.8 Z" fill="#176b3c"/>
<path d="M521.0,18.8 L525.6,23.4 L521.0,28.0 L516.4,23.4 Z" fill="#176b3c"/>
<path d="M522.8,25.1 L527.4,29.7 L522.8,34.3 L518.2,29.7 Z" fill="#176b3c"/>
<path d="M520.5,4.8 L525.1,9.4 L520.5,14.0 L515.9,9.4 Z" fill="#176b3c"/>
<path d="M524.4,-1.5 L529.0,3.1 L524.4,7.7 L519.8,3.1 Z" fill="#176b3c"/>
<path d="M523.6,3.2 L528.2,7.8 L523.6,12.4 L519.0,7.8 Z" fill="#176b3c"/>
<path d="M526.0,6.4 L530.6,11.0 L526.0,15.6 L521.4,11.0 Z" fill="#176b3c"/>
<path d="M60.3,11.3 V261.4" stroke="#1d7a47" stroke-width="1.4" fill="none"/>
<path d="M60.3,12.0 h-8.8" stroke="#1d7a47" stroke-width="1.4"/>
<path d="M60.3,94.9 h-8.8" stroke="#1d7a47" stroke-width="1.4"/>
<path d="M60.3,177.8 h-8.8" stroke="#1d7a47" stroke-width="1.4"/>
<path d="M60.3,260.7 h-8.8" stroke="#1d7a47" stroke-width="1.4"/>
<path d="M60.3,53.4 h-4.8" stroke="#1d7a47" stroke-width="1.4"/>
<path d="M60.3,136.3 h-4.8" stroke="#1d7a47" stroke-width="1.4"/>
<path d="M60.3,219.2 h-4.8" stroke="#1d7a47" stroke-width="1.4"/>
<text x="47.2" y="17.8" text-anchor="end" font-size="17.5" fill="#231f20">0</text>
<text x="47.2" y="100.69999999999999" text-anchor="end" font-size="17.5" fill="#231f20">–40</text>
<text x="47.2" y="183.6" text-anchor="end" font-size="17.5" fill="#231f20">–80</text>
<text x="47.2" y="266.5" text-anchor="end" font-size="17.5" fill="#231f20">–120</text>
<path d="M36.5,2.5 L43.8,2.5 L42,5.2 L40.3,7.5 L39.6,10.8 L36.5,11 Z" fill="#fff"/>
<path d="M577,11.3 V261.3" stroke="#6cc04c" stroke-width="1.4" fill="none"/>
<path d="M577,12.0 h8" stroke="#6cc04c" stroke-width="1.4"/>
<path d="M577,61.7 h8" stroke="#6cc04c" stroke-width="1.4"/>
<path d="M577,111.4 h8" stroke="#6cc04c" stroke-width="1.4"/>
<path d="M577,161.2 h8" stroke="#6cc04c" stroke-width="1.4"/>
<path d="M577,210.9 h8" stroke="#6cc04c" stroke-width="1.4"/>
<path d="M577,260.6 h8" stroke="#6cc04c" stroke-width="1.4"/>
<path d="M577,36.9 h5" stroke="#6cc04c" stroke-width="1.4"/>
<path d="M577,86.6 h5" stroke="#6cc04c" stroke-width="1.4"/>
<path d="M577,136.3 h5" stroke="#6cc04c" stroke-width="1.4"/>
<path d="M577,186.0 h5" stroke="#6cc04c" stroke-width="1.4"/>
<path d="M577,235.7 h5" stroke="#6cc04c" stroke-width="1.4"/>
<text x="590" y="17.4" text-anchor="start" font-size="17.5" fill="#231f20">0</text>
<text x="590" y="67.12" text-anchor="start" font-size="17.5" fill="#231f20">20</text>
<text x="590" y="116.84" text-anchor="start" font-size="17.5" fill="#231f20">40</text>
<text x="590" y="166.56000000000003" text-anchor="start" font-size="17.5" fill="#231f20">60</text>
<text x="590" y="216.28" text-anchor="start" font-size="17.5" fill="#231f20">80</text>
<text x="590" y="266.0" text-anchor="start" font-size="17.5" fill="#231f20">100</text>
<path d="M60.4,268.05 V517.0500000000001" stroke="#231f20" stroke-width="1.4" fill="none"/>
<path d="M60.4,299.7 h-8.8" stroke="#231f20" stroke-width="1.4"/>
<path d="M60.4,361.6 h-8.8" stroke="#231f20" stroke-width="1.4"/>
<path d="M60.4,423.5 h-8.8" stroke="#231f20" stroke-width="1.4"/>
<path d="M60.4,485.4 h-8.8" stroke="#231f20" stroke-width="1.4"/>
<path d="M60.4,268.8 h-4.8" stroke="#231f20" stroke-width="1.4"/>
<path d="M60.4,330.6 h-4.8" stroke="#231f20" stroke-width="1.4"/>
<path d="M60.4,392.5 h-4.8" stroke="#231f20" stroke-width="1.4"/>
<path d="M60.4,454.4 h-4.8" stroke="#231f20" stroke-width="1.4"/>
<path d="M60.4,516.4 h-4.8" stroke="#231f20" stroke-width="1.4"/>
<text x="47.4" y="305.9" text-anchor="end" font-size="17.5" fill="#231f20">0</text>
<text x="47.4" y="367.79999999999995" text-anchor="end" font-size="17.5" fill="#231f20">–1</text>
<text x="47.4" y="429.7" text-anchor="end" font-size="17.5" fill="#231f20">–2</text>
<text x="47.4" y="491.59999999999997" text-anchor="end" font-size="17.5" fill="#231f20">–3</text>
<path d="M527.3,175.3 V470.09999999999997" stroke="#231f20" stroke-width="1.4" fill="none"/>
<path d="M527.3,208.6 h8" stroke="#231f20" stroke-width="1.4"/>
<path d="M527.3,273.8 h8" stroke="#231f20" stroke-width="1.4"/>
<path d="M527.3,339.0 h8" stroke="#231f20" stroke-width="1.4"/>
<path d="M527.3,404.2 h8" stroke="#231f20" stroke-width="1.4"/>
<path d="M527.3,469.4 h8" stroke="#231f20" stroke-width="1.4"/>
<path d="M527.3,176.0 h4.6" stroke="#231f20" stroke-width="1.4"/>
<path d="M527.3,241.2 h4.6" stroke="#231f20" stroke-width="1.4"/>
<path d="M527.3,306.4 h4.6" stroke="#231f20" stroke-width="1.4"/>
<path d="M527.3,371.6 h4.6" stroke="#231f20" stroke-width="1.4"/>
<path d="M527.3,436.8 h4.6" stroke="#231f20" stroke-width="1.4"/>
<text x="540.5" y="214.79999999999998" text-anchor="start" font-size="17.5" fill="#231f20">260</text>
<text x="540.5" y="279.99999999999994" text-anchor="start" font-size="17.5" fill="#231f20">240</text>
<text x="540.5" y="345.2" text-anchor="start" font-size="17.5" fill="#231f20">220</text>
<text x="540.5" y="410.4" text-anchor="start" font-size="17.5" fill="#231f20">200</text>
<text x="540.5" y="475.59999999999997" text-anchor="start" font-size="17.5" fill="#231f20">180</text>
<path d="M576.8,420.3 V669.7" stroke="#231f20" stroke-width="1.4" fill="none"/>
<path d="M576.8,452.0 h8" stroke="#231f20" stroke-width="1.4"/>
<path d="M576.8,514.0 h8" stroke="#231f20" stroke-width="1.4"/>
<path d="M576.8,576.0 h8" stroke="#231f20" stroke-width="1.4"/>
<path d="M576.8,638.0 h8" stroke="#231f20" stroke-width="1.4"/>
<path d="M576.8,421.0 h4.6" stroke="#231f20" stroke-width="1.4"/>
<path d="M576.8,483.0 h4.6" stroke="#231f20" stroke-width="1.4"/>
<path d="M576.8,545.0 h4.6" stroke="#231f20" stroke-width="1.4"/>
<path d="M576.8,607.0 h4.6" stroke="#231f20" stroke-width="1.4"/>
<path d="M576.8,669.0 h4.6" stroke="#231f20" stroke-width="1.4"/>
<text x="592.2" y="458.2" text-anchor="start" font-size="17.5" fill="#231f20">0</text>
<text x="592.2" y="520.2" text-anchor="start" font-size="17.5" fill="#231f20">–1</text>
<text x="592.2" y="582.2" text-anchor="start" font-size="17.5" fill="#231f20">–2</text>
<text x="592.2" y="644.2" text-anchor="start" font-size="17.5" fill="#231f20">–3</text>
<path d="M60.6,611.6999999999999 V768.5" stroke="#231f20" stroke-width="1.4" fill="none"/>
<path d="M60.6,612.4 h-8.8" stroke="#231f20" stroke-width="1.4"/>
<path d="M60.6,664.2 h-8.8" stroke="#231f20" stroke-width="1.4"/>
<path d="M60.6,716.0 h-8.8" stroke="#231f20" stroke-width="1.4"/>
<path d="M60.6,767.8 h-8.8" stroke="#231f20" stroke-width="1.4"/>
<path d="M60.6,638.3 h-4.8" stroke="#231f20" stroke-width="1.4"/>
<path d="M60.6,690.1 h-4.8" stroke="#231f20" stroke-width="1.4"/>
<path d="M60.6,741.9 h-4.8" stroke="#231f20" stroke-width="1.4"/>
<text x="47.4" y="618.6" text-anchor="end" font-size="17.5" fill="#231f20">10</text>
<text x="47.4" y="670.4000000000001" text-anchor="end" font-size="17.5" fill="#231f20">5</text>
<text x="47.4" y="722.2" text-anchor="end" font-size="17.5" fill="#231f20">0</text>
<text x="47.4" y="774.0" text-anchor="end" font-size="17.5" fill="#231f20">–5</text>
<path d="M60.599999999999994,801.8 H527.6" stroke="#231f20" stroke-width="1.4"/>
<path d="M61.3,801.8 v8" stroke="#231f20" stroke-width="1.4"/>
<path d="M91.3,801.8 v4.6" stroke="#231f20" stroke-width="1.4"/>
<path d="M121.4,801.8 v8" stroke="#231f20" stroke-width="1.4"/>
<path d="M151.4,801.8 v4.6" stroke="#231f20" stroke-width="1.4"/>
<path d="M181.4,801.8 v8" stroke="#231f20" stroke-width="1.4"/>
<path d="M211.4,801.8 v4.6" stroke="#231f20" stroke-width="1.4"/>
<path d="M241.5,801.8 v8" stroke="#231f20" stroke-width="1.4"/>
<path d="M271.5,801.8 v4.6" stroke="#231f20" stroke-width="1.4"/>
<path d="M301.5,801.8 v8" stroke="#231f20" stroke-width="1.4"/>
<path d="M331.6,801.8 v4.6" stroke="#231f20" stroke-width="1.4"/>
<path d="M361.6,801.8 v8" stroke="#231f20" stroke-width="1.4"/>
<path d="M391.6,801.8 v4.6" stroke="#231f20" stroke-width="1.4"/>
<path d="M421.7,801.8 v8" stroke="#231f20" stroke-width="1.4"/>
<path d="M451.7,801.8 v4.6" stroke="#231f20" stroke-width="1.4"/>
<path d="M481.7,801.8 v8" stroke="#231f20" stroke-width="1.4"/>
<path d="M511.8,801.8 v4.6" stroke="#231f20" stroke-width="1.4"/>
<text x="60.6" y="829.2" text-anchor="middle" font-size="17.5" fill="#231f20">22</text>
<text x="120.7" y="829.2" text-anchor="middle" font-size="17.5" fill="#231f20">20</text>
<text x="180.7" y="829.2" text-anchor="middle" font-size="17.5" fill="#231f20">18</text>
<text x="240.8" y="829.2" text-anchor="middle" font-size="17.5" fill="#231f20">16</text>
<text x="300.8" y="829.2" text-anchor="middle" font-size="17.5" fill="#231f20">14</text>
<text x="360.9" y="829.2" text-anchor="middle" font-size="17.5" fill="#231f20">12</text>
<text x="421.0" y="829.2" text-anchor="middle" font-size="17.5" fill="#231f20">10</text>
<text x="481.0" y="829.2" text-anchor="middle" font-size="17.5" fill="#231f20">8</text>
<text x="291.4" y="849.2" text-anchor="middle" font-size="17.5" fill="#231f20" textLength="68.4" lengthAdjust="spacingAndGlyphs">Age (kyr)</text>
<path d="M64.3,792.3 H150" stroke="#231f20" stroke-width="1.1" fill="none"/>
<path d="M60.3,792.3 L68.5,788.0 L64.89999999999999,792.3 L68.5,796.5999999999999 Z" fill="#231f20"/>
<path d="M154,792.3 L145.8,788.0 L149.4,792.3 L145.8,796.5999999999999 Z" fill="#231f20"/>
<text x="110.3" y="785.8" text-anchor="middle" font-size="17.5" fill="#231f20">LGM</text>
<path d="M167.2,792.3 H273.8" stroke="#231f20" stroke-width="1.1" fill="none"/>
<path d="M163.2,792.3 L171.39999999999998,788.0 L167.79999999999998,792.3 L171.39999999999998,796.5999999999999 Z" fill="#231f20"/>
<path d="M277.8,792.3 L269.6,788.0 L273.2,792.3 L269.6,796.5999999999999 Z" fill="#231f20"/>
<text x="222" y="785.8" text-anchor="middle" font-size="17.5" fill="#231f20">OD</text>
<path d="M286.7,792.3 H326.3" stroke="#231f20" stroke-width="1.1" fill="none"/>
<path d="M282.7,792.3 L290.9,788.0 L287.3,792.3 L290.9,796.5999999999999 Z" fill="#231f20"/>
<path d="M330.3,792.3 L322.1,788.0 L325.7,792.3 L322.1,796.5999999999999 Z" fill="#231f20"/>
<text x="309.5" y="785.8" text-anchor="middle" font-size="17.5" fill="#231f20">B–A</text>
<path d="M339.4,792.3 H368.5" stroke="#231f20" stroke-width="1.1" fill="none"/>
<path d="M335.4,792.3 L343.59999999999997,788.0 L340.0,792.3 L343.59999999999997,796.5999999999999 Z" fill="#231f20"/>
<path d="M372.5,792.3 L364.3,788.0 L367.9,792.3 L364.3,796.5999999999999 Z" fill="#231f20"/>
<text x="353.5" y="785.8" text-anchor="middle" font-size="17.5" fill="#231f20">YD</text>
<path d="M379.5,792.3 H524" stroke="#231f20" stroke-width="1.1" fill="none"/>
<path d="M375.5,792.3 L383.7,788.0 L380.1,792.3 L383.7,796.5999999999999 Z" fill="#231f20"/>
<path d="M528,792.3 L519.8,788.0 L523.4,792.3 L519.8,796.5999999999999 Z" fill="#231f20"/>
<text x="458" y="785.8" text-anchor="middle" font-size="17.5" fill="#231f20">Holocene</text>
<text x="14.8" y="140.7" text-anchor="middle" font-size="17.5" fill="#231f20" transform="rotate(-90 14.8 140.7)" textLength="167.5" lengthAdjust="spacingAndGlyphs">Relative sea level (m)</text>
<text x="16.6" y="390.2" text-anchor="middle" font-size="17.5" fill="#231f20" transform="rotate(-90 16.6 390.2)" textLength="235" lengthAdjust="spacingAndGlyphs">Proxy global temperature (°C)</text>
<text x="20.8" y="691" text-anchor="middle" font-size="17.5" fill="#231f20" transform="rotate(-90 20.8 691)" textLength="256.6" lengthAdjust="spacingAndGlyphs">Insolation (% relative to present)</text>
<text x="625.2" y="136.6" text-anchor="middle" font-size="17.5" fill="#231f20" transform="rotate(90 625.2 136.6)" textLength="175.2" lengthAdjust="spacingAndGlyphs">NH ice-sheet area (%)</text>
<text x="625.6" y="547.7" text-anchor="middle" font-size="17.5" fill="#231f20" transform="rotate(90 625.6 547.7)" textLength="239.6" lengthAdjust="spacingAndGlyphs">Model global temperature (°C)</text>
<text x="576.7" y="332.4" text-anchor="middle" font-size="17.5" fill="#231f20" transform="rotate(90 576.7 332.4)" textLength="112.5" lengthAdjust="spacingAndGlyphs">CO<tspan font-size="10.5" dy="4.5">2</tspan><tspan dy="-4.5"> (p.p.m.v.)</tspan></text>
<text x="465.5" y="709.3" text-anchor="middle" font-size="17.5" fill="#231f20" textLength="106.6" lengthAdjust="spacingAndGlyphs">Global annual</text>
<text x="417.5" y="632.8" text-anchor="start" font-size="17.5" fill="#72389f" transform="rotate(17.2 417.5 632.8)" textLength="112" lengthAdjust="spacingAndGlyphs">65° N June 21</text>
<text x="415" y="749.6" text-anchor="start" font-size="17.5" fill="#ea6f2c" transform="rotate(-10.2 415 749.6)" textLength="107" lengthAdjust="spacingAndGlyphs">65° S Dec. 21</text>
<text x="80" y="248.2" font-size="19.5" font-weight="bold" fill="#111" stroke="#111" stroke-width="0.6">a</text>
<text x="80" y="291.5" font-size="19.5" font-weight="bold" fill="#111" stroke="#111" stroke-width="0.6">b</text>
<text x="80" y="438.7" font-size="19.5" font-weight="bold" fill="#111" stroke="#111" stroke-width="0.6">c</text>
<text x="80" y="502.8" font-size="19.5" font-weight="bold" fill="#111" stroke="#111" stroke-width="0.6">d</text>
<text x="80.4" y="553" font-size="19.5" font-weight="bold" fill="#111" stroke="#111" stroke-width="0.6">e</text>
<text x="80" y="706" font-size="19.5" font-weight="bold" fill="#111" stroke="#111" stroke-width="0.6">f</text>
</svg>
</body></html>
